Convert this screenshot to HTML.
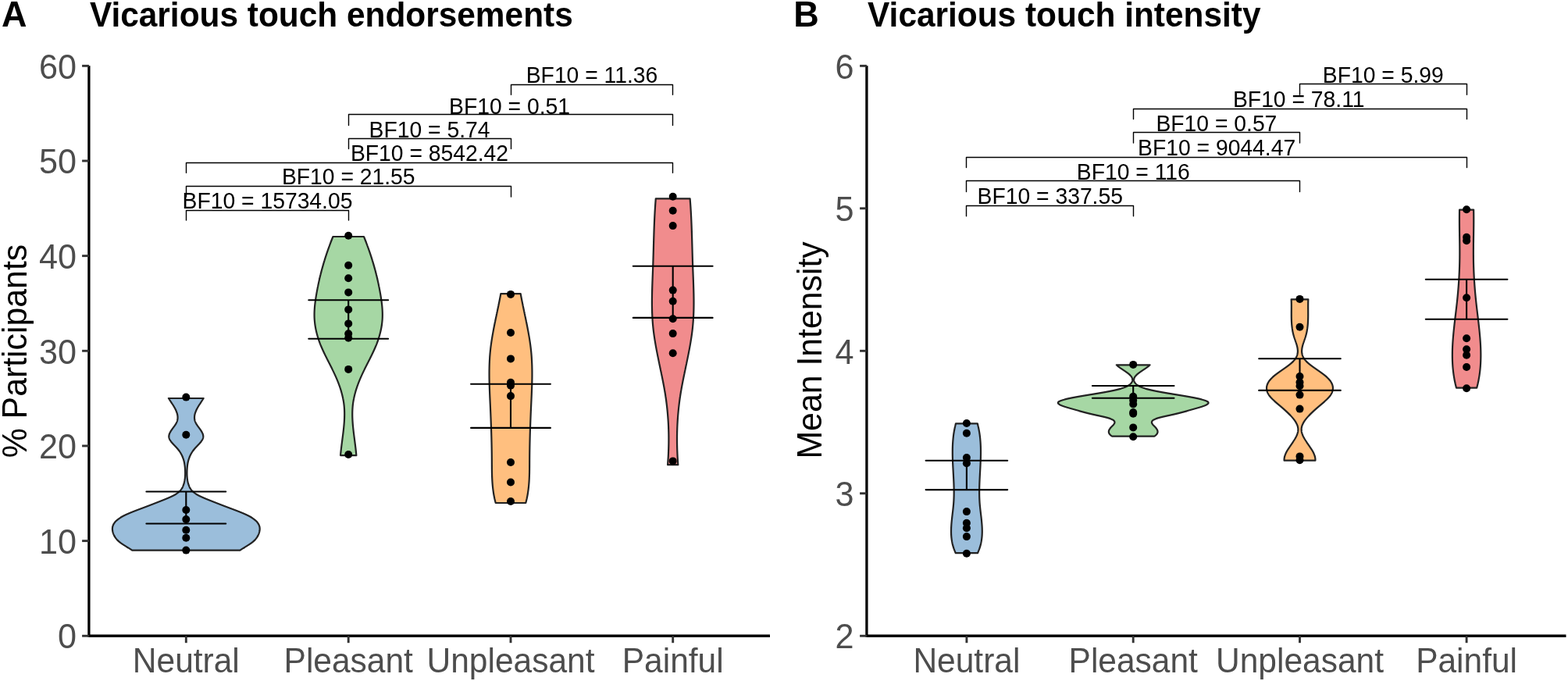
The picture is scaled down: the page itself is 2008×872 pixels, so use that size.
<!DOCTYPE html>
<html><head><meta charset="utf-8"><title>Vicarious touch</title><style>
html,body{margin:0;padding:0;background:#fff;}
svg{display:block;}
text{font-family:"Liberation Sans",Arial,Helvetica,sans-serif;}
.tk{font-size:43.2px;fill:#4D4D4D;}
.xl{font-size:42.5px;fill:#4D4D4D;}
.at{font-size:42.8px;fill:#000;}
.bf{font-size:28.3px;fill:#000;}
.ttl{font-size:42.4px;font-weight:bold;fill:#000;}
.tag{font-size:45px;font-weight:bold;fill:#000;}
</style></head><body>
<svg width="2008" height="872" viewBox="0 0 2008 872">
<rect width="2008" height="872" fill="#fff"/>
<path d="M260.70,510.00 L260.38,510.50 L260.05,511.00 L259.73,511.51 L259.40,512.01 L259.07,512.51 L258.74,513.01 L258.40,513.51 L258.07,514.01 L257.74,514.52 L257.41,515.02 L257.08,515.52 L256.75,516.02 L256.42,516.52 L256.10,517.03 L255.77,517.53 L255.45,518.03 L255.14,518.53 L254.82,519.03 L254.51,519.53 L254.21,520.04 L253.91,520.54 L253.62,521.04 L253.33,521.54 L253.04,522.04 L252.77,522.55 L252.50,523.05 L252.23,523.55 L251.98,524.05 L251.73,524.55 L251.49,525.05 L251.26,525.56 L251.04,526.06 L250.83,526.56 L250.63,527.06 L250.43,527.56 L250.25,528.06 L250.08,528.57 L249.92,529.07 L249.78,529.57 L249.64,530.07 L249.52,530.57 L249.41,531.08 L249.31,531.58 L249.23,532.08 L249.16,532.58 L249.11,533.08 L249.07,533.58 L249.05,534.09 L249.04,534.59 L249.05,535.09 L249.07,535.59 L249.11,536.09 L249.17,536.60 L249.25,537.10 L249.34,537.60 L249.45,538.10 L249.58,538.60 L249.73,539.10 L249.90,539.61 L250.09,540.11 L250.30,540.61 L250.53,541.11 L250.78,541.61 L251.05,542.12 L251.34,542.62 L251.63,543.12 L251.95,543.62 L252.27,544.12 L252.61,544.62 L252.95,545.13 L253.31,545.63 L253.66,546.13 L254.03,546.63 L254.39,547.13 L254.76,547.64 L255.13,548.14 L255.50,548.64 L255.86,549.14 L256.22,549.64 L256.58,550.14 L256.92,550.65 L257.26,551.15 L257.59,551.65 L257.91,552.15 L258.21,552.65 L258.50,553.16 L258.77,553.66 L259.03,554.16 L259.26,554.66 L259.48,555.16 L259.67,555.66 L259.84,556.17 L259.99,556.67 L260.11,557.17 L260.20,557.67 L260.26,558.17 L260.29,558.67 L260.29,559.18 L260.25,559.68 L260.18,560.18 L260.07,560.68 L259.93,561.18 L259.75,561.69 L259.54,562.19 L259.30,562.69 L259.03,563.19 L258.74,563.69 L258.42,564.19 L258.07,564.70 L257.71,565.20 L257.32,565.70 L256.92,566.20 L256.50,566.70 L256.07,567.21 L255.63,567.71 L255.17,568.21 L254.71,568.71 L254.24,569.21 L253.76,569.71 L253.28,570.22 L252.80,570.72 L252.32,571.22 L251.85,571.72 L251.37,572.22 L250.90,572.73 L250.44,573.23 L249.99,573.73 L249.55,574.23 L249.13,574.73 L248.71,575.23 L248.31,575.74 L247.92,576.24 L247.54,576.74 L247.17,577.24 L246.82,577.74 L246.47,578.25 L246.14,578.75 L245.81,579.25 L245.50,579.75 L245.20,580.25 L244.91,580.75 L244.63,581.26 L244.36,581.76 L244.09,582.26 L243.84,582.76 L243.60,583.26 L243.37,583.77 L243.14,584.27 L242.92,584.77 L242.72,585.27 L242.52,585.77 L242.33,586.27 L242.14,586.78 L241.97,587.28 L241.80,587.78 L241.64,588.28 L241.49,588.78 L241.34,589.29 L241.20,589.79 L241.07,590.29 L240.95,590.79 L240.83,591.29 L240.72,591.79 L240.61,592.30 L240.51,592.80 L240.41,593.30 L240.33,593.80 L240.24,594.30 L240.16,594.80 L240.09,595.31 L240.02,595.81 L239.96,596.31 L239.90,596.81 L239.85,597.31 L239.80,597.82 L239.75,598.32 L239.71,598.82 L239.67,599.32 L239.63,599.82 L239.60,600.32 L239.57,600.83 L239.55,601.33 L239.52,601.83 L239.50,602.33 L239.49,602.83 L239.47,603.34 L239.46,603.84 L239.45,604.34 L239.44,604.84 L239.43,605.34 L239.43,605.84 L239.43,606.35 L239.44,606.85 L239.44,607.35 L239.46,607.85 L239.47,608.35 L239.49,608.86 L239.51,609.36 L239.54,609.86 L239.57,610.36 L239.61,610.86 L239.65,611.36 L239.70,611.87 L239.75,612.37 L239.81,612.87 L239.87,613.37 L239.94,613.87 L240.02,614.38 L240.10,614.88 L240.18,615.38 L240.28,615.88 L240.38,616.38 L240.49,616.88 L240.60,617.39 L240.72,617.89 L240.85,618.39 L240.99,618.89 L241.13,619.39 L241.28,619.90 L241.44,620.40 L241.61,620.90 L241.79,621.40 L241.98,621.90 L242.17,622.40 L242.38,622.91 L242.60,623.41 L242.84,623.91 L243.10,624.41 L243.37,624.91 L243.67,625.41 L243.99,625.92 L244.33,626.42 L244.70,626.92 L245.09,627.42 L245.52,627.92 L245.97,628.43 L246.46,628.93 L246.98,629.43 L247.54,629.93 L248.14,630.43 L248.77,630.93 L249.44,631.44 L250.16,631.94 L250.92,632.44 L251.73,632.94 L252.59,633.44 L253.49,633.95 L254.43,634.45 L255.42,634.95 L256.44,635.45 L257.49,635.95 L258.58,636.45 L259.70,636.96 L260.84,637.46 L262.01,637.96 L263.20,638.46 L264.41,638.96 L265.64,639.47 L266.88,639.97 L268.13,640.47 L269.39,640.97 L270.66,641.47 L271.92,641.97 L273.19,642.48 L274.46,642.98 L275.74,643.48 L277.01,643.98 L278.29,644.48 L279.57,644.99 L280.85,645.49 L282.14,645.99 L283.43,646.49 L284.73,646.99 L286.03,647.49 L287.34,648.00 L288.65,648.50 L289.97,649.00 L291.30,649.50 L292.63,650.00 L293.96,650.51 L295.30,651.01 L296.63,651.51 L297.96,652.01 L299.29,652.51 L300.60,653.01 L301.92,653.52 L303.22,654.02 L304.51,654.52 L305.78,655.02 L307.04,655.52 L308.28,656.03 L309.50,656.53 L310.70,657.03 L311.87,657.53 L313.02,658.03 L314.15,658.53 L315.24,659.04 L316.30,659.54 L317.33,660.04 L318.32,660.54 L319.28,661.04 L320.20,661.54 L321.08,662.05 L321.92,662.55 L322.72,663.05 L323.49,663.55 L324.23,664.05 L324.92,664.56 L325.59,665.06 L326.21,665.56 L326.81,666.06 L327.37,666.56 L327.90,667.06 L328.40,667.57 L328.87,668.07 L329.30,668.57 L329.71,669.07 L330.09,669.57 L330.44,670.08 L330.76,670.58 L331.05,671.08 L331.32,671.58 L331.56,672.08 L331.78,672.58 L331.97,673.09 L332.13,673.59 L332.28,674.09 L332.40,674.59 L332.50,675.09 L332.57,675.60 L332.63,676.10 L332.66,676.60 L332.68,677.10 L332.68,677.60 L332.65,678.10 L332.61,678.61 L332.56,679.11 L332.48,679.61 L332.39,680.11 L332.28,680.61 L332.16,681.12 L332.03,681.62 L331.88,682.12 L331.72,682.62 L331.54,683.12 L331.36,683.62 L331.16,684.13 L330.95,684.63 L330.72,685.13 L330.48,685.63 L330.22,686.13 L329.95,686.64 L329.65,687.14 L329.35,687.64 L329.02,688.14 L328.67,688.64 L328.31,689.14 L327.92,689.65 L327.52,690.15 L327.09,690.65 L326.63,691.15 L326.16,691.65 L325.66,692.15 L325.14,692.66 L324.59,693.16 L324.01,693.66 L323.41,694.16 L322.78,694.66 L322.12,695.17 L321.44,695.67 L320.73,696.17 L319.99,696.67 L319.24,697.17 L318.47,697.67 L317.68,698.18 L316.88,698.68 L316.07,699.18 L315.26,699.68 L314.44,700.18 L313.63,700.69 L312.81,701.19 L312.00,701.69 L311.20,702.19 L310.40,702.69 L309.62,703.19 L308.86,703.70 L308.11,704.20 L307.39,704.70 L169.21,704.70 L168.49,704.20 L167.74,703.70 L166.98,703.19 L166.20,702.69 L165.40,702.19 L164.60,701.69 L163.79,701.19 L162.97,700.69 L162.16,700.18 L161.34,699.68 L160.53,699.18 L159.72,698.68 L158.92,698.18 L158.13,697.67 L157.36,697.17 L156.61,696.67 L155.87,696.17 L155.16,695.67 L154.48,695.17 L153.82,694.66 L153.19,694.16 L152.59,693.66 L152.01,693.16 L151.46,692.66 L150.94,692.15 L150.44,691.65 L149.97,691.15 L149.51,690.65 L149.08,690.15 L148.68,689.65 L148.29,689.14 L147.93,688.64 L147.58,688.14 L147.25,687.64 L146.95,687.14 L146.65,686.64 L146.38,686.13 L146.12,685.63 L145.88,685.13 L145.65,684.63 L145.44,684.13 L145.24,683.62 L145.06,683.12 L144.88,682.62 L144.72,682.12 L144.57,681.62 L144.44,681.12 L144.32,680.61 L144.21,680.11 L144.12,679.61 L144.04,679.11 L143.99,678.61 L143.95,678.10 L143.92,677.60 L143.92,677.10 L143.94,676.60 L143.97,676.10 L144.03,675.60 L144.10,675.09 L144.20,674.59 L144.32,674.09 L144.47,673.59 L144.63,673.09 L144.82,672.58 L145.04,672.08 L145.28,671.58 L145.55,671.08 L145.84,670.58 L146.16,670.08 L146.51,669.57 L146.89,669.07 L147.30,668.57 L147.73,668.07 L148.20,667.57 L148.70,667.06 L149.23,666.56 L149.79,666.06 L150.39,665.56 L151.01,665.06 L151.68,664.56 L152.37,664.05 L153.11,663.55 L153.88,663.05 L154.68,662.55 L155.52,662.05 L156.40,661.54 L157.32,661.04 L158.28,660.54 L159.27,660.04 L160.30,659.54 L161.36,659.04 L162.45,658.53 L163.58,658.03 L164.73,657.53 L165.90,657.03 L167.10,656.53 L168.32,656.03 L169.56,655.52 L170.82,655.02 L172.09,654.52 L173.38,654.02 L174.68,653.52 L176.00,653.01 L177.31,652.51 L178.64,652.01 L179.97,651.51 L181.30,651.01 L182.64,650.51 L183.97,650.00 L185.30,649.50 L186.63,649.00 L187.95,648.50 L189.26,648.00 L190.57,647.49 L191.87,646.99 L193.17,646.49 L194.46,645.99 L195.75,645.49 L197.03,644.99 L198.31,644.48 L199.59,643.98 L200.86,643.48 L202.14,642.98 L203.41,642.48 L204.68,641.97 L205.94,641.47 L207.21,640.97 L208.47,640.47 L209.72,639.97 L210.96,639.47 L212.19,638.96 L213.40,638.46 L214.59,637.96 L215.76,637.46 L216.90,636.96 L218.02,636.45 L219.11,635.95 L220.16,635.45 L221.18,634.95 L222.17,634.45 L223.11,633.95 L224.01,633.44 L224.87,632.94 L225.68,632.44 L226.44,631.94 L227.16,631.44 L227.83,630.93 L228.46,630.43 L229.06,629.93 L229.62,629.43 L230.14,628.93 L230.63,628.43 L231.08,627.92 L231.51,627.42 L231.90,626.92 L232.27,626.42 L232.61,625.92 L232.93,625.41 L233.23,624.91 L233.50,624.41 L233.76,623.91 L234.00,623.41 L234.22,622.91 L234.43,622.40 L234.62,621.90 L234.81,621.40 L234.99,620.90 L235.16,620.40 L235.32,619.90 L235.47,619.39 L235.61,618.89 L235.75,618.39 L235.88,617.89 L236.00,617.39 L236.11,616.88 L236.22,616.38 L236.32,615.88 L236.42,615.38 L236.50,614.88 L236.58,614.38 L236.66,613.87 L236.73,613.37 L236.79,612.87 L236.85,612.37 L236.90,611.87 L236.95,611.36 L236.99,610.86 L237.03,610.36 L237.06,609.86 L237.09,609.36 L237.11,608.86 L237.13,608.35 L237.14,607.85 L237.16,607.35 L237.16,606.85 L237.17,606.35 L237.17,605.84 L237.17,605.34 L237.16,604.84 L237.15,604.34 L237.14,603.84 L237.13,603.34 L237.11,602.83 L237.10,602.33 L237.08,601.83 L237.05,601.33 L237.03,600.83 L237.00,600.32 L236.97,599.82 L236.93,599.32 L236.89,598.82 L236.85,598.32 L236.80,597.82 L236.75,597.31 L236.70,596.81 L236.64,596.31 L236.58,595.81 L236.51,595.31 L236.44,594.80 L236.36,594.30 L236.27,593.80 L236.19,593.30 L236.09,592.80 L235.99,592.30 L235.88,591.79 L235.77,591.29 L235.65,590.79 L235.53,590.29 L235.40,589.79 L235.26,589.29 L235.11,588.78 L234.96,588.28 L234.80,587.78 L234.63,587.28 L234.46,586.78 L234.27,586.27 L234.08,585.77 L233.88,585.27 L233.68,584.77 L233.46,584.27 L233.23,583.77 L233.00,583.26 L232.76,582.76 L232.51,582.26 L232.24,581.76 L231.97,581.26 L231.69,580.75 L231.40,580.25 L231.10,579.75 L230.79,579.25 L230.46,578.75 L230.13,578.25 L229.78,577.74 L229.43,577.24 L229.06,576.74 L228.68,576.24 L228.29,575.74 L227.89,575.23 L227.47,574.73 L227.05,574.23 L226.61,573.73 L226.16,573.23 L225.70,572.73 L225.23,572.22 L224.75,571.72 L224.28,571.22 L223.80,570.72 L223.32,570.22 L222.84,569.71 L222.36,569.21 L221.89,568.71 L221.43,568.21 L220.97,567.71 L220.53,567.21 L220.10,566.70 L219.68,566.20 L219.28,565.70 L218.89,565.20 L218.53,564.70 L218.18,564.19 L217.86,563.69 L217.57,563.19 L217.30,562.69 L217.06,562.19 L216.85,561.69 L216.67,561.18 L216.53,560.68 L216.42,560.18 L216.35,559.68 L216.31,559.18 L216.31,558.67 L216.34,558.17 L216.40,557.67 L216.49,557.17 L216.61,556.67 L216.76,556.17 L216.93,555.66 L217.12,555.16 L217.34,554.66 L217.57,554.16 L217.83,553.66 L218.10,553.16 L218.39,552.65 L218.69,552.15 L219.01,551.65 L219.34,551.15 L219.68,550.65 L220.02,550.14 L220.38,549.64 L220.74,549.14 L221.10,548.64 L221.47,548.14 L221.84,547.64 L222.21,547.13 L222.57,546.63 L222.94,546.13 L223.29,545.63 L223.65,545.13 L223.99,544.62 L224.33,544.12 L224.65,543.62 L224.97,543.12 L225.26,542.62 L225.55,542.12 L225.82,541.61 L226.07,541.11 L226.30,540.61 L226.51,540.11 L226.70,539.61 L226.87,539.10 L227.02,538.60 L227.15,538.10 L227.26,537.60 L227.35,537.10 L227.43,536.60 L227.49,536.09 L227.53,535.59 L227.55,535.09 L227.56,534.59 L227.55,534.09 L227.53,533.58 L227.49,533.08 L227.44,532.58 L227.37,532.08 L227.29,531.58 L227.19,531.08 L227.08,530.57 L226.96,530.07 L226.82,529.57 L226.68,529.07 L226.52,528.57 L226.35,528.06 L226.17,527.56 L225.97,527.06 L225.77,526.56 L225.56,526.06 L225.34,525.56 L225.11,525.05 L224.87,524.55 L224.62,524.05 L224.37,523.55 L224.10,523.05 L223.83,522.55 L223.56,522.04 L223.27,521.54 L222.98,521.04 L222.69,520.54 L222.39,520.04 L222.09,519.53 L221.78,519.03 L221.46,518.53 L221.15,518.03 L220.83,517.53 L220.50,517.03 L220.18,516.52 L219.85,516.02 L219.52,515.52 L219.19,515.02 L218.86,514.52 L218.53,514.01 L218.20,513.51 L217.86,513.01 L217.53,512.51 L217.20,512.01 L216.87,511.51 L216.55,511.00 L216.22,510.50 L215.90,510.00 Z" fill="#9BBEDB" stroke="#222" stroke-width="2.2" stroke-linejoin="round"/>
<path d="M187.40,629.5 H289.20 M187.40,670.5 H289.20 M238.30,629.5 V670.5" stroke="#000" stroke-width="2.1" stroke-linecap="round" fill="none"/>
<circle cx="238.30" cy="508.6" r="5.0" fill="#000"/>
<circle cx="238.30" cy="556.7" r="5.0" fill="#000"/>
<circle cx="238.30" cy="653" r="5.0" fill="#000"/>
<circle cx="238.30" cy="665.1" r="5.0" fill="#000"/>
<circle cx="238.30" cy="678.8" r="5.0" fill="#000"/>
<circle cx="238.30" cy="688.8" r="5.0" fill="#000"/>
<circle cx="238.30" cy="704.6" r="5.0" fill="#000"/>
<path d="M465.97,303.00 L466.18,303.50 L466.38,304.00 L466.59,304.50 L466.79,305.00 L466.99,305.51 L467.19,306.01 L467.39,306.51 L467.59,307.01 L467.79,307.51 L467.98,308.01 L468.18,308.51 L468.38,309.01 L468.57,309.51 L468.76,310.02 L468.96,310.52 L469.15,311.02 L469.34,311.52 L469.53,312.02 L469.72,312.52 L469.91,313.02 L470.10,313.52 L470.28,314.02 L470.47,314.52 L470.65,315.03 L470.84,315.53 L471.02,316.03 L471.20,316.53 L471.39,317.03 L471.57,317.53 L471.75,318.03 L471.92,318.53 L472.10,319.03 L472.28,319.54 L472.46,320.04 L472.63,320.54 L472.81,321.04 L472.98,321.54 L473.15,322.04 L473.33,322.54 L473.50,323.04 L473.67,323.54 L473.84,324.05 L474.01,324.55 L474.17,325.05 L474.34,325.55 L474.51,326.05 L474.67,326.55 L474.84,327.05 L475.00,327.55 L475.17,328.05 L475.33,328.55 L475.49,329.06 L475.65,329.56 L475.81,330.06 L475.97,330.56 L476.13,331.06 L476.28,331.56 L476.44,332.06 L476.59,332.56 L476.75,333.06 L476.90,333.57 L477.06,334.07 L477.21,334.57 L477.36,335.07 L477.51,335.57 L477.66,336.07 L477.81,336.57 L477.96,337.07 L478.10,337.57 L478.25,338.08 L478.40,338.58 L478.54,339.08 L478.68,339.58 L478.83,340.08 L478.97,340.58 L479.11,341.08 L479.25,341.58 L479.39,342.08 L479.53,342.58 L479.67,343.09 L479.81,343.59 L479.94,344.09 L480.08,344.59 L480.22,345.09 L480.35,345.59 L480.48,346.09 L480.62,346.59 L480.75,347.09 L480.88,347.60 L481.01,348.10 L481.14,348.60 L481.27,349.10 L481.40,349.60 L481.52,350.10 L481.65,350.60 L481.78,351.10 L481.90,351.60 L482.02,352.11 L482.15,352.61 L482.27,353.11 L482.39,353.61 L482.51,354.11 L482.63,354.61 L482.75,355.11 L482.87,355.61 L482.99,356.11 L483.11,356.61 L483.22,357.12 L483.34,357.62 L483.45,358.12 L483.57,358.62 L483.68,359.12 L483.79,359.62 L483.90,360.12 L484.01,360.62 L484.12,361.12 L484.23,361.63 L484.34,362.13 L484.45,362.63 L484.56,363.13 L484.66,363.63 L484.77,364.13 L484.87,364.63 L484.98,365.13 L485.08,365.63 L485.18,366.14 L485.29,366.64 L485.39,367.14 L485.49,367.64 L485.59,368.14 L485.68,368.64 L485.78,369.14 L485.88,369.64 L485.98,370.14 L486.07,370.64 L486.17,371.15 L486.26,371.65 L486.35,372.15 L486.45,372.65 L486.54,373.15 L486.63,373.65 L486.72,374.15 L486.81,374.65 L486.90,375.15 L486.99,375.66 L487.08,376.16 L487.16,376.66 L487.25,377.16 L487.33,377.66 L487.42,378.16 L487.50,378.66 L487.58,379.16 L487.67,379.66 L487.75,380.17 L487.83,380.67 L487.91,381.17 L487.98,381.67 L488.06,382.17 L488.13,382.67 L488.21,383.17 L488.28,383.67 L488.35,384.17 L488.42,384.67 L488.49,385.18 L488.56,385.68 L488.63,386.18 L488.69,386.68 L488.76,387.18 L488.82,387.68 L488.88,388.18 L488.94,388.68 L489.00,389.18 L489.05,389.69 L489.11,390.19 L489.16,390.69 L489.21,391.19 L489.26,391.69 L489.31,392.19 L489.35,392.69 L489.40,393.19 L489.44,393.69 L489.48,394.20 L489.52,394.70 L489.55,395.20 L489.59,395.70 L489.62,396.20 L489.65,396.70 L489.68,397.20 L489.70,397.70 L489.73,398.20 L489.75,398.71 L489.77,399.21 L489.78,399.71 L489.80,400.21 L489.81,400.71 L489.82,401.21 L489.83,401.71 L489.83,402.21 L489.84,402.71 L489.84,403.21 L489.84,403.72 L489.83,404.22 L489.82,404.72 L489.81,405.22 L489.80,405.72 L489.79,406.22 L489.77,406.72 L489.75,407.22 L489.72,407.72 L489.70,408.23 L489.67,408.73 L489.64,409.23 L489.60,409.73 L489.56,410.23 L489.52,410.73 L489.48,411.23 L489.43,411.73 L489.38,412.23 L489.33,412.74 L489.28,413.24 L489.22,413.74 L489.16,414.24 L489.10,414.74 L489.03,415.24 L488.96,415.74 L488.89,416.24 L488.82,416.74 L488.74,417.24 L488.66,417.75 L488.58,418.25 L488.49,418.75 L488.40,419.25 L488.31,419.75 L488.22,420.25 L488.13,420.75 L488.03,421.25 L487.93,421.75 L487.82,422.26 L487.72,422.76 L487.61,423.26 L487.49,423.76 L487.38,424.26 L487.26,424.76 L487.14,425.26 L487.02,425.76 L486.90,426.26 L486.77,426.77 L486.64,427.27 L486.51,427.77 L486.37,428.27 L486.24,428.77 L486.10,429.27 L485.95,429.77 L485.81,430.27 L485.66,430.77 L485.51,431.27 L485.36,431.78 L485.21,432.28 L485.05,432.78 L484.89,433.28 L484.73,433.78 L484.56,434.28 L484.40,434.78 L484.23,435.28 L484.06,435.78 L483.88,436.29 L483.71,436.79 L483.53,437.29 L483.35,437.79 L483.17,438.29 L482.98,438.79 L482.79,439.29 L482.60,439.79 L482.41,440.29 L482.22,440.80 L482.02,441.30 L481.82,441.80 L481.62,442.30 L481.41,442.80 L481.21,443.30 L481.00,443.80 L480.79,444.30 L480.58,444.80 L480.36,445.30 L480.15,445.81 L479.93,446.31 L479.71,446.81 L479.49,447.31 L479.26,447.81 L479.04,448.31 L478.81,448.81 L478.58,449.31 L478.35,449.81 L478.11,450.32 L477.88,450.82 L477.64,451.32 L477.41,451.82 L477.17,452.32 L476.93,452.82 L476.69,453.32 L476.45,453.82 L476.20,454.32 L475.96,454.83 L475.71,455.33 L475.47,455.83 L475.22,456.33 L474.97,456.83 L474.72,457.33 L474.47,457.83 L474.22,458.33 L473.97,458.83 L473.72,459.33 L473.47,459.84 L473.21,460.34 L472.96,460.84 L472.71,461.34 L472.45,461.84 L472.20,462.34 L471.94,462.84 L471.69,463.34 L471.43,463.84 L471.18,464.35 L470.92,464.85 L470.67,465.35 L470.41,465.85 L470.16,466.35 L469.91,466.85 L469.65,467.35 L469.40,467.85 L469.14,468.35 L468.89,468.86 L468.64,469.36 L468.39,469.86 L468.13,470.36 L467.88,470.86 L467.63,471.36 L467.38,471.86 L467.13,472.36 L466.88,472.86 L466.64,473.36 L466.39,473.87 L466.15,474.37 L465.90,474.87 L465.66,475.37 L465.42,475.87 L465.17,476.37 L464.94,476.87 L464.70,477.37 L464.46,477.87 L464.22,478.38 L463.99,478.88 L463.76,479.38 L463.53,479.88 L463.30,480.38 L463.07,480.88 L462.84,481.38 L462.62,481.88 L462.40,482.38 L462.17,482.89 L461.96,483.39 L461.74,483.89 L461.52,484.39 L461.31,484.89 L461.09,485.39 L460.88,485.89 L460.67,486.39 L460.47,486.89 L460.26,487.39 L460.06,487.90 L459.86,488.40 L459.66,488.90 L459.46,489.40 L459.26,489.90 L459.07,490.40 L458.88,490.90 L458.69,491.40 L458.50,491.90 L458.32,492.41 L458.13,492.91 L457.95,493.41 L457.77,493.91 L457.59,494.41 L457.42,494.91 L457.24,495.41 L457.07,495.91 L456.90,496.41 L456.74,496.92 L456.57,497.42 L456.41,497.92 L456.25,498.42 L456.09,498.92 L455.93,499.42 L455.78,499.92 L455.63,500.42 L455.48,500.92 L455.33,501.43 L455.19,501.93 L455.05,502.43 L454.91,502.93 L454.77,503.43 L454.64,503.93 L454.50,504.43 L454.38,504.93 L454.25,505.43 L454.12,505.93 L454.00,506.44 L453.88,506.94 L453.76,507.44 L453.65,507.94 L453.54,508.44 L453.43,508.94 L453.32,509.44 L453.22,509.94 L453.11,510.44 L453.02,510.95 L452.92,511.45 L452.83,511.95 L452.73,512.45 L452.65,512.95 L452.56,513.45 L452.48,513.95 L452.40,514.45 L452.32,514.95 L452.25,515.46 L452.18,515.96 L452.11,516.46 L452.04,516.96 L451.98,517.46 L451.92,517.96 L451.86,518.46 L451.81,518.96 L451.75,519.46 L451.70,519.96 L451.66,520.47 L451.61,520.97 L451.57,521.47 L451.53,521.97 L451.50,522.47 L451.46,522.97 L451.43,523.47 L451.40,523.97 L451.37,524.47 L451.35,524.98 L451.33,525.48 L451.31,525.98 L451.29,526.48 L451.28,526.98 L451.26,527.48 L451.25,527.98 L451.24,528.48 L451.24,528.98 L451.23,529.49 L451.23,529.99 L451.23,530.49 L451.23,530.99 L451.23,531.49 L451.24,531.99 L451.25,532.49 L451.26,532.99 L451.27,533.49 L451.28,533.99 L451.29,534.50 L451.31,535.00 L451.33,535.50 L451.35,536.00 L451.37,536.50 L451.39,537.00 L451.42,537.50 L451.44,538.00 L451.47,538.50 L451.50,539.01 L451.53,539.51 L451.56,540.01 L451.60,540.51 L451.63,541.01 L451.67,541.51 L451.70,542.01 L451.74,542.51 L451.78,543.01 L451.82,543.52 L451.87,544.02 L451.91,544.52 L451.95,545.02 L452.00,545.52 L452.05,546.02 L452.10,546.52 L452.14,547.02 L452.19,547.52 L452.25,548.02 L452.30,548.53 L452.35,549.03 L452.40,549.53 L452.46,550.03 L452.51,550.53 L452.57,551.03 L452.63,551.53 L452.68,552.03 L452.74,552.53 L452.80,553.04 L452.86,553.54 L452.92,554.04 L452.98,554.54 L453.04,555.04 L453.10,555.54 L453.16,556.04 L453.23,556.54 L453.29,557.04 L453.35,557.55 L453.42,558.05 L453.48,558.55 L453.54,559.05 L453.61,559.55 L453.67,560.05 L453.74,560.55 L453.80,561.05 L453.87,561.55 L453.93,562.05 L454.00,562.56 L454.06,563.06 L454.13,563.56 L454.19,564.06 L454.26,564.56 L454.32,565.06 L454.39,565.56 L454.45,566.06 L454.52,566.56 L454.58,567.07 L454.64,567.57 L454.71,568.07 L454.77,568.57 L454.83,569.07 L454.90,569.57 L454.96,570.07 L455.02,570.57 L455.08,571.07 L455.14,571.58 L455.20,572.08 L455.26,572.58 L455.32,573.08 L455.38,573.58 L455.44,574.08 L455.50,574.58 L455.55,575.08 L455.61,575.58 L455.66,576.08 L455.72,576.59 L455.77,577.09 L455.83,577.59 L455.88,578.09 L455.93,578.59 L455.98,579.09 L456.03,579.59 L456.08,580.09 L456.12,580.59 L456.17,581.10 L456.21,581.60 L456.26,582.10 L456.30,582.60 L456.34,583.10 L436.06,583.10 L436.10,582.60 L436.14,582.10 L436.19,581.60 L436.23,581.10 L436.28,580.59 L436.32,580.09 L436.37,579.59 L436.42,579.09 L436.47,578.59 L436.52,578.09 L436.57,577.59 L436.63,577.09 L436.68,576.59 L436.74,576.08 L436.79,575.58 L436.85,575.08 L436.90,574.58 L436.96,574.08 L437.02,573.58 L437.08,573.08 L437.14,572.58 L437.20,572.08 L437.26,571.58 L437.32,571.07 L437.38,570.57 L437.44,570.07 L437.50,569.57 L437.57,569.07 L437.63,568.57 L437.69,568.07 L437.76,567.57 L437.82,567.07 L437.88,566.56 L437.95,566.06 L438.01,565.56 L438.08,565.06 L438.14,564.56 L438.21,564.06 L438.27,563.56 L438.34,563.06 L438.40,562.56 L438.47,562.05 L438.53,561.55 L438.60,561.05 L438.66,560.55 L438.73,560.05 L438.79,559.55 L438.86,559.05 L438.92,558.55 L438.98,558.05 L439.05,557.55 L439.11,557.04 L439.17,556.54 L439.24,556.04 L439.30,555.54 L439.36,555.04 L439.42,554.54 L439.48,554.04 L439.54,553.54 L439.60,553.04 L439.66,552.53 L439.72,552.03 L439.77,551.53 L439.83,551.03 L439.89,550.53 L439.94,550.03 L440.00,549.53 L440.05,549.03 L440.10,548.53 L440.15,548.02 L440.21,547.52 L440.26,547.02 L440.30,546.52 L440.35,546.02 L440.40,545.52 L440.45,545.02 L440.49,544.52 L440.53,544.02 L440.58,543.52 L440.62,543.01 L440.66,542.51 L440.70,542.01 L440.73,541.51 L440.77,541.01 L440.80,540.51 L440.84,540.01 L440.87,539.51 L440.90,539.01 L440.93,538.50 L440.96,538.00 L440.98,537.50 L441.01,537.00 L441.03,536.50 L441.05,536.00 L441.07,535.50 L441.09,535.00 L441.11,534.50 L441.12,533.99 L441.13,533.49 L441.14,532.99 L441.15,532.49 L441.16,531.99 L441.17,531.49 L441.17,530.99 L441.17,530.49 L441.17,529.99 L441.17,529.49 L441.16,528.98 L441.16,528.48 L441.15,527.98 L441.14,527.48 L441.12,526.98 L441.11,526.48 L441.09,525.98 L441.07,525.48 L441.05,524.98 L441.03,524.47 L441.00,523.97 L440.97,523.47 L440.94,522.97 L440.90,522.47 L440.87,521.97 L440.83,521.47 L440.79,520.97 L440.74,520.47 L440.70,519.96 L440.65,519.46 L440.59,518.96 L440.54,518.46 L440.48,517.96 L440.42,517.46 L440.36,516.96 L440.29,516.46 L440.22,515.96 L440.15,515.46 L440.08,514.95 L440.00,514.45 L439.92,513.95 L439.84,513.45 L439.75,512.95 L439.67,512.45 L439.57,511.95 L439.48,511.45 L439.38,510.95 L439.29,510.44 L439.18,509.94 L439.08,509.44 L438.97,508.94 L438.86,508.44 L438.75,507.94 L438.64,507.44 L438.52,506.94 L438.40,506.44 L438.28,505.93 L438.15,505.43 L438.02,504.93 L437.90,504.43 L437.76,503.93 L437.63,503.43 L437.49,502.93 L437.35,502.43 L437.21,501.93 L437.07,501.43 L436.92,500.92 L436.77,500.42 L436.62,499.92 L436.47,499.42 L436.31,498.92 L436.15,498.42 L435.99,497.92 L435.83,497.42 L435.66,496.92 L435.50,496.41 L435.33,495.91 L435.16,495.41 L434.98,494.91 L434.81,494.41 L434.63,493.91 L434.45,493.41 L434.27,492.91 L434.08,492.41 L433.90,491.90 L433.71,491.40 L433.52,490.90 L433.33,490.40 L433.14,489.90 L432.94,489.40 L432.74,488.90 L432.54,488.40 L432.34,487.90 L432.14,487.39 L431.93,486.89 L431.73,486.39 L431.52,485.89 L431.31,485.39 L431.09,484.89 L430.88,484.39 L430.66,483.89 L430.44,483.39 L430.23,482.89 L430.00,482.38 L429.78,481.88 L429.56,481.38 L429.33,480.88 L429.10,480.38 L428.87,479.88 L428.64,479.38 L428.41,478.88 L428.18,478.38 L427.94,477.87 L427.70,477.37 L427.46,476.87 L427.23,476.37 L426.98,475.87 L426.74,475.37 L426.50,474.87 L426.25,474.37 L426.01,473.87 L425.76,473.36 L425.52,472.86 L425.27,472.36 L425.02,471.86 L424.77,471.36 L424.52,470.86 L424.27,470.36 L424.01,469.86 L423.76,469.36 L423.51,468.86 L423.26,468.35 L423.00,467.85 L422.75,467.35 L422.49,466.85 L422.24,466.35 L421.99,465.85 L421.73,465.35 L421.48,464.85 L421.22,464.35 L420.97,463.84 L420.71,463.34 L420.46,462.84 L420.20,462.34 L419.95,461.84 L419.69,461.34 L419.44,460.84 L419.19,460.34 L418.93,459.84 L418.68,459.33 L418.43,458.83 L418.18,458.33 L417.93,457.83 L417.68,457.33 L417.43,456.83 L417.18,456.33 L416.93,455.83 L416.69,455.33 L416.44,454.83 L416.20,454.32 L415.95,453.82 L415.71,453.32 L415.47,452.82 L415.23,452.32 L414.99,451.82 L414.76,451.32 L414.52,450.82 L414.29,450.32 L414.05,449.81 L413.82,449.31 L413.59,448.81 L413.36,448.31 L413.14,447.81 L412.91,447.31 L412.69,446.81 L412.47,446.31 L412.25,445.81 L412.04,445.30 L411.82,444.80 L411.61,444.30 L411.40,443.80 L411.19,443.30 L410.99,442.80 L410.78,442.30 L410.58,441.80 L410.38,441.30 L410.18,440.80 L409.99,440.29 L409.80,439.79 L409.61,439.29 L409.42,438.79 L409.23,438.29 L409.05,437.79 L408.87,437.29 L408.69,436.79 L408.52,436.29 L408.34,435.78 L408.17,435.28 L408.00,434.78 L407.84,434.28 L407.67,433.78 L407.51,433.28 L407.35,432.78 L407.19,432.28 L407.04,431.78 L406.89,431.27 L406.74,430.77 L406.59,430.27 L406.45,429.77 L406.30,429.27 L406.16,428.77 L406.03,428.27 L405.89,427.77 L405.76,427.27 L405.63,426.77 L405.50,426.26 L405.38,425.76 L405.26,425.26 L405.14,424.76 L405.02,424.26 L404.91,423.76 L404.79,423.26 L404.68,422.76 L404.58,422.26 L404.47,421.75 L404.37,421.25 L404.27,420.75 L404.18,420.25 L404.09,419.75 L404.00,419.25 L403.91,418.75 L403.82,418.25 L403.74,417.75 L403.66,417.24 L403.58,416.74 L403.51,416.24 L403.44,415.74 L403.37,415.24 L403.30,414.74 L403.24,414.24 L403.18,413.74 L403.12,413.24 L403.07,412.74 L403.02,412.23 L402.97,411.73 L402.92,411.23 L402.88,410.73 L402.84,410.23 L402.80,409.73 L402.76,409.23 L402.73,408.73 L402.70,408.23 L402.68,407.72 L402.65,407.22 L402.63,406.72 L402.61,406.22 L402.60,405.72 L402.59,405.22 L402.58,404.72 L402.57,404.22 L402.56,403.72 L402.56,403.21 L402.56,402.71 L402.57,402.21 L402.57,401.71 L402.58,401.21 L402.59,400.71 L402.60,400.21 L402.62,399.71 L402.63,399.21 L402.65,398.71 L402.67,398.20 L402.70,397.70 L402.72,397.20 L402.75,396.70 L402.78,396.20 L402.81,395.70 L402.85,395.20 L402.88,394.70 L402.92,394.20 L402.96,393.69 L403.00,393.19 L403.05,392.69 L403.09,392.19 L403.14,391.69 L403.19,391.19 L403.24,390.69 L403.29,390.19 L403.35,389.69 L403.40,389.18 L403.46,388.68 L403.52,388.18 L403.58,387.68 L403.64,387.18 L403.71,386.68 L403.77,386.18 L403.84,385.68 L403.91,385.18 L403.98,384.67 L404.05,384.17 L404.12,383.67 L404.19,383.17 L404.27,382.67 L404.34,382.17 L404.42,381.67 L404.49,381.17 L404.57,380.67 L404.65,380.17 L404.73,379.66 L404.82,379.16 L404.90,378.66 L404.98,378.16 L405.07,377.66 L405.15,377.16 L405.24,376.66 L405.32,376.16 L405.41,375.66 L405.50,375.15 L405.59,374.65 L405.68,374.15 L405.77,373.65 L405.86,373.15 L405.95,372.65 L406.05,372.15 L406.14,371.65 L406.23,371.15 L406.33,370.64 L406.42,370.14 L406.52,369.64 L406.62,369.14 L406.72,368.64 L406.81,368.14 L406.91,367.64 L407.01,367.14 L407.11,366.64 L407.22,366.14 L407.32,365.63 L407.42,365.13 L407.53,364.63 L407.63,364.13 L407.74,363.63 L407.84,363.13 L407.95,362.63 L408.06,362.13 L408.17,361.63 L408.28,361.12 L408.39,360.62 L408.50,360.12 L408.61,359.62 L408.72,359.12 L408.83,358.62 L408.95,358.12 L409.06,357.62 L409.18,357.12 L409.29,356.61 L409.41,356.11 L409.53,355.61 L409.65,355.11 L409.77,354.61 L409.89,354.11 L410.01,353.61 L410.13,353.11 L410.25,352.61 L410.38,352.11 L410.50,351.60 L410.62,351.10 L410.75,350.60 L410.88,350.10 L411.00,349.60 L411.13,349.10 L411.26,348.60 L411.39,348.10 L411.52,347.60 L411.65,347.09 L411.78,346.59 L411.92,346.09 L412.05,345.59 L412.18,345.09 L412.32,344.59 L412.46,344.09 L412.59,343.59 L412.73,343.09 L412.87,342.58 L413.01,342.08 L413.15,341.58 L413.29,341.08 L413.43,340.58 L413.57,340.08 L413.72,339.58 L413.86,339.08 L414.00,338.58 L414.15,338.08 L414.30,337.57 L414.44,337.07 L414.59,336.57 L414.74,336.07 L414.89,335.57 L415.04,335.07 L415.19,334.57 L415.34,334.07 L415.50,333.57 L415.65,333.06 L415.81,332.56 L415.96,332.06 L416.12,331.56 L416.27,331.06 L416.43,330.56 L416.59,330.06 L416.75,329.56 L416.91,329.06 L417.07,328.55 L417.23,328.05 L417.40,327.55 L417.56,327.05 L417.73,326.55 L417.89,326.05 L418.06,325.55 L418.23,325.05 L418.39,324.55 L418.56,324.05 L418.73,323.54 L418.90,323.04 L419.07,322.54 L419.25,322.04 L419.42,321.54 L419.59,321.04 L419.77,320.54 L419.94,320.04 L420.12,319.54 L420.30,319.03 L420.48,318.53 L420.65,318.03 L420.83,317.53 L421.01,317.03 L421.20,316.53 L421.38,316.03 L421.56,315.53 L421.75,315.03 L421.93,314.52 L422.12,314.02 L422.30,313.52 L422.49,313.02 L422.68,312.52 L422.87,312.02 L423.06,311.52 L423.25,311.02 L423.44,310.52 L423.64,310.02 L423.83,309.51 L424.02,309.01 L424.22,308.51 L424.42,308.01 L424.61,307.51 L424.81,307.01 L425.01,306.51 L425.21,306.01 L425.41,305.51 L425.61,305.00 L425.81,304.50 L426.02,304.00 L426.22,303.50 L426.43,303.00 Z" fill="#A6D7A4" stroke="#222" stroke-width="2.2" stroke-linejoin="round"/>
<path d="M395.30,384.2 H497.10 M395.30,433.7 H497.10 M446.20,384.2 V433.7" stroke="#000" stroke-width="2.1" stroke-linecap="round" fill="none"/>
<circle cx="446.20" cy="301.7" r="5.0" fill="#000"/>
<circle cx="446.20" cy="339.7" r="5.0" fill="#000"/>
<circle cx="446.20" cy="356.3" r="5.0" fill="#000"/>
<circle cx="446.20" cy="374.4" r="5.0" fill="#000"/>
<circle cx="446.20" cy="396.4" r="5.0" fill="#000"/>
<circle cx="446.20" cy="414.4" r="5.0" fill="#000"/>
<circle cx="446.20" cy="427.3" r="5.0" fill="#000"/>
<circle cx="446.20" cy="432.8" r="5.0" fill="#000"/>
<circle cx="446.20" cy="472.9" r="5.0" fill="#000"/>
<circle cx="446.20" cy="582" r="5.0" fill="#000"/>
<path d="M666.70,376.20 L666.79,376.70 L666.89,377.20 L666.98,377.70 L667.07,378.21 L667.16,378.71 L667.26,379.21 L667.35,379.71 L667.45,380.21 L667.54,380.71 L667.64,381.21 L667.74,381.72 L667.83,382.22 L667.93,382.72 L668.03,383.22 L668.13,383.72 L668.22,384.22 L668.32,384.73 L668.42,385.23 L668.52,385.73 L668.62,386.23 L668.72,386.73 L668.82,387.23 L668.93,387.73 L669.03,388.24 L669.13,388.74 L669.23,389.24 L669.33,389.74 L669.44,390.24 L669.54,390.74 L669.64,391.24 L669.74,391.75 L669.85,392.25 L669.95,392.75 L670.06,393.25 L670.16,393.75 L670.26,394.25 L670.37,394.76 L670.47,395.26 L670.58,395.76 L670.68,396.26 L670.79,396.76 L670.89,397.26 L671.00,397.76 L671.10,398.27 L671.21,398.77 L671.32,399.27 L671.42,399.77 L671.53,400.27 L671.63,400.77 L671.74,401.27 L671.84,401.78 L671.95,402.28 L672.05,402.78 L672.16,403.28 L672.26,403.78 L672.37,404.28 L672.47,404.79 L672.58,405.29 L672.69,405.79 L672.79,406.29 L672.89,406.79 L673.00,407.29 L673.10,407.79 L673.21,408.30 L673.31,408.80 L673.42,409.30 L673.52,409.80 L673.62,410.30 L673.73,410.80 L673.83,411.30 L673.93,411.81 L674.04,412.31 L674.14,412.81 L674.24,413.31 L674.34,413.81 L674.44,414.31 L674.55,414.82 L674.65,415.32 L674.75,415.82 L674.85,416.32 L674.95,416.82 L675.05,417.32 L675.15,417.82 L675.25,418.33 L675.34,418.83 L675.44,419.33 L675.54,419.83 L675.64,420.33 L675.73,420.83 L675.83,421.33 L675.93,421.84 L676.02,422.34 L676.11,422.84 L676.21,423.34 L676.30,423.84 L676.40,424.34 L676.49,424.85 L676.58,425.35 L676.67,425.85 L676.76,426.35 L676.85,426.85 L676.94,427.35 L677.03,427.85 L677.12,428.36 L677.21,428.86 L677.30,429.36 L677.38,429.86 L677.47,430.36 L677.55,430.86 L677.64,431.36 L677.72,431.87 L677.80,432.37 L677.89,432.87 L677.97,433.37 L678.05,433.87 L678.13,434.37 L678.21,434.88 L678.29,435.38 L678.36,435.88 L678.44,436.38 L678.52,436.88 L678.59,437.38 L678.67,437.88 L678.74,438.39 L678.81,438.89 L678.88,439.39 L678.95,439.89 L679.02,440.39 L679.09,440.89 L679.16,441.39 L679.23,441.90 L679.29,442.40 L679.36,442.90 L679.42,443.40 L679.49,443.90 L679.55,444.40 L679.61,444.91 L679.67,445.41 L679.73,445.91 L679.79,446.41 L679.84,446.91 L679.90,447.41 L679.95,447.91 L680.01,448.42 L680.06,448.92 L680.11,449.42 L680.16,449.92 L680.21,450.42 L680.26,450.92 L680.30,451.42 L680.35,451.93 L680.40,452.43 L680.44,452.93 L680.48,453.43 L680.52,453.93 L680.56,454.43 L680.60,454.94 L680.64,455.44 L680.68,455.94 L680.72,456.44 L680.75,456.94 L680.79,457.44 L680.82,457.94 L680.85,458.45 L680.88,458.95 L680.91,459.45 L680.94,459.95 L680.97,460.45 L681.00,460.95 L681.03,461.45 L681.05,461.96 L681.08,462.46 L681.10,462.96 L681.13,463.46 L681.15,463.96 L681.17,464.46 L681.19,464.97 L681.21,465.47 L681.23,465.97 L681.25,466.47 L681.26,466.97 L681.28,467.47 L681.30,467.97 L681.31,468.48 L681.33,468.98 L681.34,469.48 L681.35,469.98 L681.36,470.48 L681.37,470.98 L681.38,471.48 L681.39,471.99 L681.40,472.49 L681.41,472.99 L681.42,473.49 L681.43,473.99 L681.43,474.49 L681.44,475.00 L681.44,475.50 L681.44,476.00 L681.45,476.50 L681.45,477.00 L681.45,477.50 L681.45,478.00 L681.45,478.51 L681.45,479.01 L681.45,479.51 L681.45,480.01 L681.45,480.51 L681.45,481.01 L681.44,481.51 L681.44,482.02 L681.44,482.52 L681.43,483.02 L681.43,483.52 L681.42,484.02 L681.41,484.52 L681.41,485.03 L681.40,485.53 L681.39,486.03 L681.38,486.53 L681.37,487.03 L681.36,487.53 L681.35,488.03 L681.34,488.54 L681.33,489.04 L681.32,489.54 L681.31,490.04 L681.30,490.54 L681.29,491.04 L681.27,491.54 L681.26,492.05 L681.25,492.55 L681.23,493.05 L681.22,493.55 L681.20,494.05 L681.19,494.55 L681.17,495.06 L681.16,495.56 L681.14,496.06 L681.12,496.56 L681.11,497.06 L681.09,497.56 L681.07,498.06 L681.05,498.57 L681.03,499.07 L681.02,499.57 L681.00,500.07 L680.98,500.57 L680.96,501.07 L680.94,501.57 L680.92,502.08 L680.90,502.58 L680.88,503.08 L680.86,503.58 L680.84,504.08 L680.82,504.58 L680.80,505.09 L680.77,505.59 L680.75,506.09 L680.73,506.59 L680.71,507.09 L680.69,507.59 L680.67,508.09 L680.64,508.60 L680.62,509.10 L680.60,509.60 L680.58,510.10 L680.55,510.60 L680.53,511.10 L680.51,511.60 L680.49,512.11 L680.46,512.61 L680.44,513.11 L680.42,513.61 L680.39,514.11 L680.37,514.61 L680.35,515.11 L680.33,515.62 L680.30,516.12 L680.28,516.62 L680.26,517.12 L680.23,517.62 L680.21,518.12 L680.19,518.63 L680.16,519.13 L680.14,519.63 L680.12,520.13 L680.10,520.63 L680.07,521.13 L680.05,521.63 L680.03,522.14 L680.01,522.64 L679.98,523.14 L679.96,523.64 L679.94,524.14 L679.92,524.64 L679.90,525.14 L679.87,525.65 L679.85,526.15 L679.83,526.65 L679.81,527.15 L679.79,527.65 L679.77,528.15 L679.74,528.66 L679.72,529.16 L679.70,529.66 L679.68,530.16 L679.66,530.66 L679.64,531.16 L679.62,531.66 L679.60,532.17 L679.58,532.67 L679.56,533.17 L679.54,533.67 L679.52,534.17 L679.50,534.67 L679.48,535.17 L679.46,535.68 L679.44,536.18 L679.42,536.68 L679.40,537.18 L679.38,537.68 L679.36,538.18 L679.34,538.69 L679.32,539.19 L679.30,539.69 L679.28,540.19 L679.26,540.69 L679.24,541.19 L679.23,541.69 L679.21,542.20 L679.19,542.70 L679.17,543.20 L679.15,543.70 L679.14,544.20 L679.12,544.70 L679.10,545.20 L679.08,545.71 L679.06,546.21 L679.05,546.71 L679.03,547.21 L679.01,547.71 L679.00,548.21 L678.98,548.72 L678.96,549.22 L678.95,549.72 L678.93,550.22 L678.91,550.72 L678.90,551.22 L678.88,551.72 L678.87,552.23 L678.85,552.73 L678.83,553.23 L678.82,553.73 L678.80,554.23 L678.79,554.73 L678.77,555.23 L678.76,555.74 L678.74,556.24 L678.73,556.74 L678.72,557.24 L678.70,557.74 L678.69,558.24 L678.67,558.75 L678.66,559.25 L678.65,559.75 L678.63,560.25 L678.62,560.75 L678.61,561.25 L678.59,561.75 L678.58,562.26 L678.57,562.76 L678.56,563.26 L678.54,563.76 L678.53,564.26 L678.52,564.76 L678.51,565.26 L678.50,565.77 L678.48,566.27 L678.47,566.77 L678.46,567.27 L678.45,567.77 L678.44,568.27 L678.43,568.78 L678.42,569.28 L678.41,569.78 L678.40,570.28 L678.39,570.78 L678.38,571.28 L678.37,571.78 L678.36,572.29 L678.35,572.79 L678.34,573.29 L678.33,573.79 L678.33,574.29 L678.32,574.79 L678.31,575.29 L678.30,575.80 L678.29,576.30 L678.28,576.80 L678.28,577.30 L678.27,577.80 L678.26,578.30 L678.26,578.81 L678.25,579.31 L678.24,579.81 L678.24,580.31 L678.23,580.81 L678.22,581.31 L678.22,581.81 L678.21,582.32 L678.21,582.82 L678.20,583.32 L678.20,583.82 L678.19,584.32 L678.19,584.82 L678.18,585.32 L678.18,585.83 L678.18,586.33 L678.17,586.83 L678.17,587.33 L678.17,587.83 L678.16,588.33 L678.16,588.84 L678.16,589.34 L678.15,589.84 L678.15,590.34 L678.15,590.84 L678.15,591.34 L678.15,591.84 L678.14,592.35 L678.14,592.85 L678.14,593.35 L678.14,593.85 L678.14,594.35 L678.13,594.85 L678.13,595.35 L678.13,595.86 L678.13,596.36 L678.12,596.86 L678.12,597.36 L678.12,597.86 L678.11,598.36 L678.11,598.87 L678.10,599.37 L678.10,599.87 L678.09,600.37 L678.09,600.87 L678.08,601.37 L678.08,601.87 L678.07,602.38 L678.06,602.88 L678.05,603.38 L678.04,603.88 L678.04,604.38 L678.03,604.88 L678.02,605.38 L678.00,605.89 L677.99,606.39 L677.98,606.89 L677.97,607.39 L677.95,607.89 L677.94,608.39 L677.92,608.90 L677.91,609.40 L677.89,609.90 L677.87,610.40 L677.85,610.90 L677.83,611.40 L677.81,611.90 L677.79,612.41 L677.77,612.91 L677.74,613.41 L677.72,613.91 L677.69,614.41 L677.66,614.91 L677.63,615.41 L677.60,615.92 L677.57,616.42 L677.54,616.92 L677.51,617.42 L677.47,617.92 L677.44,618.42 L677.40,618.93 L677.36,619.43 L677.32,619.93 L677.28,620.43 L677.24,620.93 L677.19,621.43 L677.15,621.93 L677.10,622.44 L677.05,622.94 L677.00,623.44 L676.95,623.94 L676.89,624.44 L676.84,624.94 L676.78,625.44 L676.72,625.95 L676.66,626.45 L676.60,626.95 L676.54,627.45 L676.47,627.95 L676.40,628.45 L676.33,628.96 L676.26,629.46 L676.19,629.96 L676.11,630.46 L676.04,630.96 L675.96,631.46 L675.88,631.96 L675.79,632.47 L675.71,632.97 L675.62,633.47 L675.53,633.97 L675.44,634.47 L675.35,634.97 L675.25,635.47 L675.15,635.98 L675.05,636.48 L674.95,636.98 L674.85,637.48 L674.74,637.98 L674.63,638.48 L674.52,638.99 L674.40,639.49 L674.29,639.99 L674.17,640.49 L674.05,640.99 L673.92,641.49 L673.80,641.99 L673.67,642.50 L673.54,643.00 L673.40,643.50 L673.27,644.00 L634.73,644.00 L634.60,643.50 L634.46,643.00 L634.33,642.50 L634.20,641.99 L634.08,641.49 L633.95,640.99 L633.83,640.49 L633.71,639.99 L633.60,639.49 L633.48,638.99 L633.37,638.48 L633.26,637.98 L633.15,637.48 L633.05,636.98 L632.95,636.48 L632.85,635.98 L632.75,635.47 L632.65,634.97 L632.56,634.47 L632.47,633.97 L632.38,633.47 L632.29,632.97 L632.21,632.47 L632.12,631.96 L632.04,631.46 L631.96,630.96 L631.89,630.46 L631.81,629.96 L631.74,629.46 L631.67,628.96 L631.60,628.45 L631.53,627.95 L631.46,627.45 L631.40,626.95 L631.34,626.45 L631.28,625.95 L631.22,625.44 L631.16,624.94 L631.11,624.44 L631.05,623.94 L631.00,623.44 L630.95,622.94 L630.90,622.44 L630.85,621.93 L630.81,621.43 L630.76,620.93 L630.72,620.43 L630.68,619.93 L630.64,619.43 L630.60,618.93 L630.56,618.42 L630.53,617.92 L630.49,617.42 L630.46,616.92 L630.43,616.42 L630.40,615.92 L630.37,615.41 L630.34,614.91 L630.31,614.41 L630.28,613.91 L630.26,613.41 L630.23,612.91 L630.21,612.41 L630.19,611.90 L630.17,611.40 L630.15,610.90 L630.13,610.40 L630.11,609.90 L630.09,609.40 L630.08,608.90 L630.06,608.39 L630.05,607.89 L630.03,607.39 L630.02,606.89 L630.01,606.39 L630.00,605.89 L629.98,605.38 L629.97,604.88 L629.96,604.38 L629.96,603.88 L629.95,603.38 L629.94,602.88 L629.93,602.38 L629.92,601.87 L629.92,601.37 L629.91,600.87 L629.91,600.37 L629.90,599.87 L629.90,599.37 L629.89,598.87 L629.89,598.36 L629.88,597.86 L629.88,597.36 L629.88,596.86 L629.87,596.36 L629.87,595.86 L629.87,595.35 L629.87,594.85 L629.86,594.35 L629.86,593.85 L629.86,593.35 L629.86,592.85 L629.86,592.35 L629.85,591.84 L629.85,591.34 L629.85,590.84 L629.85,590.34 L629.85,589.84 L629.84,589.34 L629.84,588.84 L629.84,588.33 L629.83,587.83 L629.83,587.33 L629.83,586.83 L629.82,586.33 L629.82,585.83 L629.82,585.32 L629.81,584.82 L629.81,584.32 L629.80,583.82 L629.80,583.32 L629.79,582.82 L629.79,582.32 L629.78,581.81 L629.78,581.31 L629.77,580.81 L629.76,580.31 L629.76,579.81 L629.75,579.31 L629.74,578.81 L629.74,578.30 L629.73,577.80 L629.72,577.30 L629.72,576.80 L629.71,576.30 L629.70,575.80 L629.69,575.29 L629.68,574.79 L629.67,574.29 L629.67,573.79 L629.66,573.29 L629.65,572.79 L629.64,572.29 L629.63,571.78 L629.62,571.28 L629.61,570.78 L629.60,570.28 L629.59,569.78 L629.58,569.28 L629.57,568.78 L629.56,568.27 L629.55,567.77 L629.54,567.27 L629.53,566.77 L629.52,566.27 L629.50,565.77 L629.49,565.26 L629.48,564.76 L629.47,564.26 L629.46,563.76 L629.44,563.26 L629.43,562.76 L629.42,562.26 L629.41,561.75 L629.39,561.25 L629.38,560.75 L629.37,560.25 L629.35,559.75 L629.34,559.25 L629.33,558.75 L629.31,558.24 L629.30,557.74 L629.28,557.24 L629.27,556.74 L629.26,556.24 L629.24,555.74 L629.23,555.23 L629.21,554.73 L629.20,554.23 L629.18,553.73 L629.17,553.23 L629.15,552.73 L629.13,552.23 L629.12,551.72 L629.10,551.22 L629.09,550.72 L629.07,550.22 L629.05,549.72 L629.04,549.22 L629.02,548.72 L629.00,548.21 L628.99,547.71 L628.97,547.21 L628.95,546.71 L628.94,546.21 L628.92,545.71 L628.90,545.20 L628.88,544.70 L628.86,544.20 L628.85,543.70 L628.83,543.20 L628.81,542.70 L628.79,542.20 L628.77,541.69 L628.76,541.19 L628.74,540.69 L628.72,540.19 L628.70,539.69 L628.68,539.19 L628.66,538.69 L628.64,538.18 L628.62,537.68 L628.60,537.18 L628.58,536.68 L628.56,536.18 L628.54,535.68 L628.52,535.17 L628.50,534.67 L628.48,534.17 L628.46,533.67 L628.44,533.17 L628.42,532.67 L628.40,532.17 L628.38,531.66 L628.36,531.16 L628.34,530.66 L628.32,530.16 L628.30,529.66 L628.28,529.16 L628.26,528.66 L628.23,528.15 L628.21,527.65 L628.19,527.15 L628.17,526.65 L628.15,526.15 L628.13,525.65 L628.10,525.14 L628.08,524.64 L628.06,524.14 L628.04,523.64 L628.02,523.14 L627.99,522.64 L627.97,522.14 L627.95,521.63 L627.93,521.13 L627.90,520.63 L627.88,520.13 L627.86,519.63 L627.84,519.13 L627.81,518.63 L627.79,518.12 L627.77,517.62 L627.74,517.12 L627.72,516.62 L627.70,516.12 L627.67,515.62 L627.65,515.11 L627.63,514.61 L627.61,514.11 L627.58,513.61 L627.56,513.11 L627.54,512.61 L627.51,512.11 L627.49,511.60 L627.47,511.10 L627.45,510.60 L627.42,510.10 L627.40,509.60 L627.38,509.10 L627.36,508.60 L627.33,508.09 L627.31,507.59 L627.29,507.09 L627.27,506.59 L627.25,506.09 L627.23,505.59 L627.20,505.09 L627.18,504.58 L627.16,504.08 L627.14,503.58 L627.12,503.08 L627.10,502.58 L627.08,502.08 L627.06,501.57 L627.04,501.07 L627.02,500.57 L627.00,500.07 L626.98,499.57 L626.97,499.07 L626.95,498.57 L626.93,498.06 L626.91,497.56 L626.89,497.06 L626.88,496.56 L626.86,496.06 L626.84,495.56 L626.83,495.06 L626.81,494.55 L626.80,494.05 L626.78,493.55 L626.77,493.05 L626.75,492.55 L626.74,492.05 L626.73,491.54 L626.71,491.04 L626.70,490.54 L626.69,490.04 L626.68,489.54 L626.67,489.04 L626.66,488.54 L626.65,488.03 L626.64,487.53 L626.63,487.03 L626.62,486.53 L626.61,486.03 L626.60,485.53 L626.59,485.03 L626.59,484.52 L626.58,484.02 L626.57,483.52 L626.57,483.02 L626.56,482.52 L626.56,482.02 L626.56,481.51 L626.55,481.01 L626.55,480.51 L626.55,480.01 L626.55,479.51 L626.55,479.01 L626.55,478.51 L626.55,478.00 L626.55,477.50 L626.55,477.00 L626.55,476.50 L626.56,476.00 L626.56,475.50 L626.56,475.00 L626.57,474.49 L626.57,473.99 L626.58,473.49 L626.59,472.99 L626.60,472.49 L626.61,471.99 L626.62,471.48 L626.63,470.98 L626.64,470.48 L626.65,469.98 L626.66,469.48 L626.67,468.98 L626.69,468.48 L626.70,467.97 L626.72,467.47 L626.74,466.97 L626.75,466.47 L626.77,465.97 L626.79,465.47 L626.81,464.97 L626.83,464.46 L626.85,463.96 L626.87,463.46 L626.90,462.96 L626.92,462.46 L626.95,461.96 L626.97,461.45 L627.00,460.95 L627.03,460.45 L627.06,459.95 L627.09,459.45 L627.12,458.95 L627.15,458.45 L627.18,457.94 L627.21,457.44 L627.25,456.94 L627.28,456.44 L627.32,455.94 L627.36,455.44 L627.40,454.94 L627.44,454.43 L627.48,453.93 L627.52,453.43 L627.56,452.93 L627.60,452.43 L627.65,451.93 L627.70,451.42 L627.74,450.92 L627.79,450.42 L627.84,449.92 L627.89,449.42 L627.94,448.92 L627.99,448.42 L628.05,447.91 L628.10,447.41 L628.16,446.91 L628.21,446.41 L628.27,445.91 L628.33,445.41 L628.39,444.91 L628.45,444.40 L628.51,443.90 L628.58,443.40 L628.64,442.90 L628.71,442.40 L628.77,441.90 L628.84,441.39 L628.91,440.89 L628.98,440.39 L629.05,439.89 L629.12,439.39 L629.19,438.89 L629.26,438.39 L629.33,437.88 L629.41,437.38 L629.48,436.88 L629.56,436.38 L629.64,435.88 L629.71,435.38 L629.79,434.88 L629.87,434.37 L629.95,433.87 L630.03,433.37 L630.11,432.87 L630.20,432.37 L630.28,431.87 L630.36,431.36 L630.45,430.86 L630.53,430.36 L630.62,429.86 L630.70,429.36 L630.79,428.86 L630.88,428.36 L630.97,427.85 L631.06,427.35 L631.15,426.85 L631.24,426.35 L631.33,425.85 L631.42,425.35 L631.51,424.85 L631.60,424.34 L631.70,423.84 L631.79,423.34 L631.89,422.84 L631.98,422.34 L632.07,421.84 L632.17,421.33 L632.27,420.83 L632.36,420.33 L632.46,419.83 L632.56,419.33 L632.66,418.83 L632.75,418.33 L632.85,417.82 L632.95,417.32 L633.05,416.82 L633.15,416.32 L633.25,415.82 L633.35,415.32 L633.45,414.82 L633.56,414.31 L633.66,413.81 L633.76,413.31 L633.86,412.81 L633.96,412.31 L634.07,411.81 L634.17,411.30 L634.27,410.80 L634.38,410.30 L634.48,409.80 L634.58,409.30 L634.69,408.80 L634.79,408.30 L634.90,407.79 L635.00,407.29 L635.11,406.79 L635.21,406.29 L635.31,405.79 L635.42,405.29 L635.53,404.79 L635.63,404.28 L635.74,403.78 L635.84,403.28 L635.95,402.78 L636.05,402.28 L636.16,401.78 L636.26,401.27 L636.37,400.77 L636.47,400.27 L636.58,399.77 L636.68,399.27 L636.79,398.77 L636.90,398.27 L637.00,397.76 L637.11,397.26 L637.21,396.76 L637.32,396.26 L637.42,395.76 L637.53,395.26 L637.63,394.76 L637.74,394.25 L637.84,393.75 L637.94,393.25 L638.05,392.75 L638.15,392.25 L638.26,391.75 L638.36,391.24 L638.46,390.74 L638.56,390.24 L638.67,389.74 L638.77,389.24 L638.87,388.74 L638.97,388.24 L639.07,387.73 L639.18,387.23 L639.28,386.73 L639.38,386.23 L639.48,385.73 L639.58,385.23 L639.68,384.73 L639.78,384.22 L639.87,383.72 L639.97,383.22 L640.07,382.72 L640.17,382.22 L640.26,381.72 L640.36,381.21 L640.46,380.71 L640.55,380.21 L640.65,379.71 L640.74,379.21 L640.84,378.71 L640.93,378.21 L641.02,377.70 L641.11,377.20 L641.21,376.70 L641.30,376.20 Z" fill="#FFBF7F" stroke="#222" stroke-width="2.2" stroke-linejoin="round"/>
<path d="M603.10,491.7 H704.90 M603.10,547.9 H704.90 M654.00,491.7 V547.9" stroke="#000" stroke-width="2.1" stroke-linecap="round" fill="none"/>
<circle cx="654.00" cy="376.9" r="5.0" fill="#000"/>
<circle cx="654.00" cy="426" r="5.0" fill="#000"/>
<circle cx="654.00" cy="459.4" r="5.0" fill="#000"/>
<circle cx="654.00" cy="489.7" r="5.0" fill="#000"/>
<circle cx="654.00" cy="493.8" r="5.0" fill="#000"/>
<circle cx="654.00" cy="507.1" r="5.0" fill="#000"/>
<circle cx="654.00" cy="592" r="5.0" fill="#000"/>
<circle cx="654.00" cy="617.5" r="5.0" fill="#000"/>
<circle cx="654.00" cy="642" r="5.0" fill="#000"/>
<path d="M883.61,254.40 L883.66,254.90 L883.70,255.40 L883.74,255.90 L883.78,256.40 L883.82,256.91 L883.86,257.41 L883.89,257.91 L883.93,258.41 L883.97,258.91 L884.01,259.41 L884.04,259.91 L884.08,260.41 L884.12,260.92 L884.15,261.42 L884.19,261.92 L884.22,262.42 L884.26,262.92 L884.29,263.42 L884.33,263.92 L884.36,264.42 L884.39,264.92 L884.43,265.43 L884.46,265.93 L884.49,266.43 L884.52,266.93 L884.55,267.43 L884.58,267.93 L884.61,268.43 L884.64,268.93 L884.67,269.44 L884.70,269.94 L884.73,270.44 L884.76,270.94 L884.79,271.44 L884.82,271.94 L884.85,272.44 L884.87,272.94 L884.90,273.44 L884.93,273.95 L884.96,274.45 L884.98,274.95 L885.01,275.45 L885.03,275.95 L885.06,276.45 L885.08,276.95 L885.11,277.45 L885.13,277.96 L885.16,278.46 L885.18,278.96 L885.21,279.46 L885.23,279.96 L885.25,280.46 L885.27,280.96 L885.30,281.46 L885.32,281.96 L885.34,282.47 L885.36,282.97 L885.39,283.47 L885.41,283.97 L885.43,284.47 L885.45,284.97 L885.47,285.47 L885.49,285.97 L885.51,286.48 L885.53,286.98 L885.55,287.48 L885.57,287.98 L885.59,288.48 L885.61,288.98 L885.63,289.48 L885.65,289.98 L885.67,290.48 L885.68,290.99 L885.70,291.49 L885.72,291.99 L885.74,292.49 L885.76,292.99 L885.77,293.49 L885.79,293.99 L885.81,294.49 L885.83,295.00 L885.84,295.50 L885.86,296.00 L885.88,296.50 L885.89,297.00 L885.91,297.50 L885.92,298.00 L885.94,298.50 L885.96,299.00 L885.97,299.51 L885.99,300.01 L886.00,300.51 L886.02,301.01 L886.03,301.51 L886.05,302.01 L886.06,302.51 L886.08,303.01 L886.09,303.52 L886.11,304.02 L886.12,304.52 L886.14,305.02 L886.15,305.52 L886.17,306.02 L886.18,306.52 L886.20,307.02 L886.21,307.52 L886.22,308.03 L886.24,308.53 L886.25,309.03 L886.27,309.53 L886.28,310.03 L886.29,310.53 L886.31,311.03 L886.32,311.53 L886.33,312.04 L886.35,312.54 L886.36,313.04 L886.38,313.54 L886.39,314.04 L886.40,314.54 L886.42,315.04 L886.43,315.54 L886.44,316.04 L886.46,316.55 L886.47,317.05 L886.48,317.55 L886.50,318.05 L886.51,318.55 L886.52,319.05 L886.54,319.55 L886.55,320.05 L886.56,320.56 L886.58,321.06 L886.59,321.56 L886.61,322.06 L886.62,322.56 L886.63,323.06 L886.65,323.56 L886.66,324.06 L886.67,324.56 L886.69,325.07 L886.70,325.57 L886.72,326.07 L886.73,326.57 L886.74,327.07 L886.76,327.57 L886.77,328.07 L886.79,328.57 L886.80,329.08 L886.82,329.58 L886.83,330.08 L886.84,330.58 L886.86,331.08 L886.87,331.58 L886.89,332.08 L886.90,332.58 L886.92,333.08 L886.93,333.59 L886.95,334.09 L886.97,334.59 L886.98,335.09 L887.00,335.59 L887.01,336.09 L887.03,336.59 L887.05,337.09 L887.06,337.60 L887.08,338.10 L887.09,338.60 L887.11,339.10 L887.13,339.60 L887.15,340.10 L887.16,340.60 L887.18,341.10 L887.20,341.60 L887.22,342.11 L887.23,342.61 L887.25,343.11 L887.27,343.61 L887.29,344.11 L887.31,344.61 L887.32,345.11 L887.34,345.61 L887.36,346.12 L887.38,346.62 L887.40,347.12 L887.42,347.62 L887.44,348.12 L887.46,348.62 L887.48,349.12 L887.50,349.62 L887.52,350.12 L887.53,350.63 L887.55,351.13 L887.57,351.63 L887.59,352.13 L887.61,352.63 L887.63,353.13 L887.65,353.63 L887.67,354.13 L887.69,354.64 L887.71,355.14 L887.73,355.64 L887.75,356.14 L887.77,356.64 L887.79,357.14 L887.80,357.64 L887.82,358.14 L887.84,358.64 L887.86,359.15 L887.88,359.65 L887.90,360.15 L887.92,360.65 L887.93,361.15 L887.95,361.65 L887.97,362.15 L887.99,362.65 L888.00,363.16 L888.02,363.66 L888.04,364.16 L888.06,364.66 L888.07,365.16 L888.09,365.66 L888.11,366.16 L888.12,366.66 L888.14,367.16 L888.15,367.67 L888.17,368.17 L888.18,368.67 L888.20,369.17 L888.21,369.67 L888.23,370.17 L888.24,370.67 L888.26,371.17 L888.27,371.68 L888.28,372.18 L888.30,372.68 L888.31,373.18 L888.32,373.68 L888.33,374.18 L888.34,374.68 L888.35,375.18 L888.37,375.68 L888.38,376.19 L888.39,376.69 L888.40,377.19 L888.40,377.69 L888.41,378.19 L888.42,378.69 L888.43,379.19 L888.44,379.69 L888.44,380.20 L888.45,380.70 L888.46,381.20 L888.46,381.70 L888.47,382.20 L888.47,382.70 L888.48,383.20 L888.48,383.70 L888.48,384.20 L888.49,384.71 L888.49,385.21 L888.49,385.71 L888.49,386.21 L888.49,386.71 L888.49,387.21 L888.49,387.71 L888.49,388.21 L888.49,388.72 L888.49,389.22 L888.49,389.72 L888.48,390.22 L888.48,390.72 L888.47,391.22 L888.47,391.72 L888.46,392.22 L888.46,392.72 L888.45,393.23 L888.44,393.73 L888.43,394.23 L888.43,394.73 L888.42,395.23 L888.40,395.73 L888.39,396.23 L888.38,396.73 L888.37,397.24 L888.36,397.74 L888.34,398.24 L888.33,398.74 L888.31,399.24 L888.30,399.74 L888.28,400.24 L888.26,400.74 L888.24,401.24 L888.22,401.75 L888.20,402.25 L888.18,402.75 L888.16,403.25 L888.14,403.75 L888.12,404.25 L888.09,404.75 L888.07,405.25 L888.04,405.76 L888.02,406.26 L887.99,406.76 L887.96,407.26 L887.93,407.76 L887.90,408.26 L887.87,408.76 L887.84,409.26 L887.80,409.76 L887.77,410.27 L887.74,410.77 L887.70,411.27 L887.66,411.77 L887.63,412.27 L887.59,412.77 L887.55,413.27 L887.51,413.77 L887.47,414.28 L887.43,414.78 L887.38,415.28 L887.34,415.78 L887.29,416.28 L887.25,416.78 L887.20,417.28 L887.15,417.78 L887.10,418.28 L887.05,418.79 L887.00,419.29 L886.95,419.79 L886.89,420.29 L886.84,420.79 L886.78,421.29 L886.73,421.79 L886.67,422.29 L886.61,422.80 L886.55,423.30 L886.49,423.80 L886.43,424.30 L886.37,424.80 L886.31,425.30 L886.24,425.80 L886.18,426.30 L886.11,426.80 L886.04,427.31 L885.98,427.81 L885.91,428.31 L885.84,428.81 L885.77,429.31 L885.70,429.81 L885.63,430.31 L885.55,430.81 L885.48,431.32 L885.41,431.82 L885.33,432.32 L885.25,432.82 L885.18,433.32 L885.10,433.82 L885.02,434.32 L884.94,434.82 L884.86,435.32 L884.78,435.83 L884.70,436.33 L884.62,436.83 L884.54,437.33 L884.46,437.83 L884.37,438.33 L884.29,438.83 L884.20,439.33 L884.12,439.84 L884.03,440.34 L883.95,440.84 L883.86,441.34 L883.77,441.84 L883.68,442.34 L883.59,442.84 L883.50,443.34 L883.41,443.84 L883.32,444.35 L883.23,444.85 L883.14,445.35 L883.05,445.85 L882.95,446.35 L882.86,446.85 L882.77,447.35 L882.67,447.85 L882.58,448.36 L882.48,448.86 L882.39,449.36 L882.29,449.86 L882.19,450.36 L882.10,450.86 L882.00,451.36 L881.90,451.86 L881.80,452.36 L881.71,452.87 L881.61,453.37 L881.51,453.87 L881.41,454.37 L881.31,454.87 L881.21,455.37 L881.11,455.87 L881.01,456.37 L880.90,456.88 L880.80,457.38 L880.70,457.88 L880.60,458.38 L880.50,458.88 L880.39,459.38 L880.29,459.88 L880.19,460.38 L880.09,460.88 L879.98,461.39 L879.88,461.89 L879.77,462.39 L879.67,462.89 L879.57,463.39 L879.46,463.89 L879.36,464.39 L879.25,464.89 L879.15,465.40 L879.04,465.90 L878.94,466.40 L878.83,466.90 L878.73,467.40 L878.62,467.90 L878.52,468.40 L878.41,468.90 L878.31,469.40 L878.20,469.91 L878.10,470.41 L877.99,470.91 L877.89,471.41 L877.78,471.91 L877.68,472.41 L877.57,472.91 L877.46,473.41 L877.36,473.92 L877.25,474.42 L877.15,474.92 L877.04,475.42 L876.94,475.92 L876.83,476.42 L876.73,476.92 L876.63,477.42 L876.52,477.92 L876.42,478.43 L876.31,478.93 L876.21,479.43 L876.11,479.93 L876.00,480.43 L875.90,480.93 L875.80,481.43 L875.69,481.93 L875.59,482.44 L875.49,482.94 L875.39,483.44 L875.29,483.94 L875.18,484.44 L875.08,484.94 L874.98,485.44 L874.88,485.94 L874.78,486.44 L874.68,486.95 L874.58,487.45 L874.48,487.95 L874.39,488.45 L874.29,488.95 L874.19,489.45 L874.09,489.95 L874.00,490.45 L873.90,490.96 L873.80,491.46 L873.71,491.96 L873.61,492.46 L873.52,492.96 L873.42,493.46 L873.33,493.96 L873.24,494.46 L873.14,494.96 L873.05,495.47 L872.96,495.97 L872.87,496.47 L872.78,496.97 L872.69,497.47 L872.60,497.97 L872.51,498.47 L872.42,498.97 L872.34,499.48 L872.25,499.98 L872.16,500.48 L872.08,500.98 L871.99,501.48 L871.91,501.98 L871.83,502.48 L871.74,502.98 L871.66,503.48 L871.58,503.99 L871.50,504.49 L871.42,504.99 L871.34,505.49 L871.26,505.99 L871.19,506.49 L871.11,506.99 L871.03,507.49 L870.96,508.00 L870.88,508.50 L870.81,509.00 L870.74,509.50 L870.67,510.00 L870.59,510.50 L870.52,511.00 L870.45,511.50 L870.38,512.00 L870.32,512.51 L870.25,513.01 L870.18,513.51 L870.12,514.01 L870.05,514.51 L869.98,515.01 L869.92,515.51 L869.86,516.01 L869.79,516.52 L869.73,517.02 L869.67,517.52 L869.61,518.02 L869.55,518.52 L869.49,519.02 L869.43,519.52 L869.38,520.02 L869.32,520.52 L869.26,521.03 L869.21,521.53 L869.15,522.03 L869.10,522.53 L869.05,523.03 L868.99,523.53 L868.94,524.03 L868.89,524.53 L868.84,525.04 L868.79,525.54 L868.74,526.04 L868.69,526.54 L868.65,527.04 L868.60,527.54 L868.55,528.04 L868.51,528.54 L868.46,529.04 L868.42,529.55 L868.38,530.05 L868.33,530.55 L868.29,531.05 L868.25,531.55 L868.21,532.05 L868.17,532.55 L868.13,533.05 L868.09,533.56 L868.05,534.06 L868.02,534.56 L867.98,535.06 L867.95,535.56 L867.91,536.06 L867.88,536.56 L867.84,537.06 L867.81,537.56 L867.78,538.07 L867.75,538.57 L867.71,539.07 L867.68,539.57 L867.66,540.07 L867.63,540.57 L867.60,541.07 L867.57,541.57 L867.54,542.08 L867.52,542.58 L867.49,543.08 L867.47,543.58 L867.44,544.08 L867.42,544.58 L867.40,545.08 L867.38,545.58 L867.35,546.08 L867.33,546.59 L867.31,547.09 L867.29,547.59 L867.28,548.09 L867.26,548.59 L867.24,549.09 L867.22,549.59 L867.21,550.09 L867.19,550.60 L867.18,551.10 L867.16,551.60 L867.15,552.10 L867.14,552.60 L867.12,553.10 L867.11,553.60 L867.10,554.10 L867.09,554.60 L867.08,555.11 L867.07,555.61 L867.06,556.11 L867.06,556.61 L867.05,557.11 L867.04,557.61 L867.04,558.11 L867.03,558.61 L867.03,559.12 L867.03,559.62 L867.02,560.12 L867.02,560.62 L867.02,561.12 L867.02,561.62 L867.02,562.12 L867.02,562.62 L867.02,563.12 L867.02,563.63 L867.02,564.13 L867.02,564.63 L867.03,565.13 L867.03,565.63 L867.03,566.13 L867.04,566.63 L867.05,567.13 L867.05,567.64 L867.06,568.14 L867.07,568.64 L867.07,569.14 L867.08,569.64 L867.09,570.14 L867.10,570.64 L867.11,571.14 L867.13,571.64 L867.14,572.15 L867.15,572.65 L867.16,573.15 L867.18,573.65 L867.19,574.15 L867.21,574.65 L867.22,575.15 L867.24,575.65 L867.26,576.16 L867.27,576.66 L867.29,577.16 L867.31,577.66 L867.33,578.16 L867.35,578.66 L867.37,579.16 L867.39,579.66 L867.41,580.16 L867.43,580.67 L867.46,581.17 L867.48,581.67 L867.51,582.17 L867.53,582.67 L867.56,583.17 L867.58,583.67 L867.61,584.17 L867.63,584.68 L867.66,585.18 L867.69,585.68 L867.72,586.18 L867.75,586.68 L867.78,587.18 L867.81,587.68 L867.84,588.18 L867.87,588.68 L867.90,589.19 L867.94,589.69 L867.97,590.19 L868.01,590.69 L868.04,591.19 L868.08,591.69 L868.11,592.19 L868.15,592.69 L868.18,593.20 L868.22,593.70 L868.26,594.20 L868.30,594.70 L868.34,595.20 L855.06,595.20 L855.10,594.70 L855.14,594.20 L855.18,593.70 L855.22,593.20 L855.25,592.69 L855.29,592.19 L855.32,591.69 L855.36,591.19 L855.39,590.69 L855.43,590.19 L855.46,589.69 L855.50,589.19 L855.53,588.68 L855.56,588.18 L855.59,587.68 L855.62,587.18 L855.65,586.68 L855.68,586.18 L855.71,585.68 L855.74,585.18 L855.77,584.68 L855.79,584.17 L855.82,583.67 L855.84,583.17 L855.87,582.67 L855.89,582.17 L855.92,581.67 L855.94,581.17 L855.97,580.67 L855.99,580.16 L856.01,579.66 L856.03,579.16 L856.05,578.66 L856.07,578.16 L856.09,577.66 L856.11,577.16 L856.13,576.66 L856.14,576.16 L856.16,575.65 L856.18,575.15 L856.19,574.65 L856.21,574.15 L856.22,573.65 L856.24,573.15 L856.25,572.65 L856.26,572.15 L856.27,571.64 L856.29,571.14 L856.30,570.64 L856.31,570.14 L856.32,569.64 L856.33,569.14 L856.33,568.64 L856.34,568.14 L856.35,567.64 L856.35,567.13 L856.36,566.63 L856.37,566.13 L856.37,565.63 L856.37,565.13 L856.38,564.63 L856.38,564.13 L856.38,563.63 L856.38,563.12 L856.38,562.62 L856.38,562.12 L856.38,561.62 L856.38,561.12 L856.38,560.62 L856.38,560.12 L856.37,559.62 L856.37,559.12 L856.37,558.61 L856.36,558.11 L856.36,557.61 L856.35,557.11 L856.34,556.61 L856.34,556.11 L856.33,555.61 L856.32,555.11 L856.31,554.60 L856.30,554.10 L856.29,553.60 L856.28,553.10 L856.26,552.60 L856.25,552.10 L856.24,551.60 L856.22,551.10 L856.21,550.60 L856.19,550.09 L856.18,549.59 L856.16,549.09 L856.14,548.59 L856.12,548.09 L856.11,547.59 L856.09,547.09 L856.07,546.59 L856.05,546.08 L856.02,545.58 L856.00,545.08 L855.98,544.58 L855.96,544.08 L855.93,543.58 L855.91,543.08 L855.88,542.58 L855.86,542.08 L855.83,541.57 L855.80,541.07 L855.77,540.57 L855.74,540.07 L855.72,539.57 L855.69,539.07 L855.65,538.57 L855.62,538.07 L855.59,537.56 L855.56,537.06 L855.52,536.56 L855.49,536.06 L855.45,535.56 L855.42,535.06 L855.38,534.56 L855.35,534.06 L855.31,533.56 L855.27,533.05 L855.23,532.55 L855.19,532.05 L855.15,531.55 L855.11,531.05 L855.07,530.55 L855.02,530.05 L854.98,529.55 L854.94,529.04 L854.89,528.54 L854.85,528.04 L854.80,527.54 L854.75,527.04 L854.71,526.54 L854.66,526.04 L854.61,525.54 L854.56,525.04 L854.51,524.53 L854.46,524.03 L854.41,523.53 L854.35,523.03 L854.30,522.53 L854.25,522.03 L854.19,521.53 L854.14,521.03 L854.08,520.52 L854.02,520.02 L853.97,519.52 L853.91,519.02 L853.85,518.52 L853.79,518.02 L853.73,517.52 L853.67,517.02 L853.61,516.52 L853.54,516.01 L853.48,515.51 L853.42,515.01 L853.35,514.51 L853.28,514.01 L853.22,513.51 L853.15,513.01 L853.08,512.51 L853.02,512.00 L852.95,511.50 L852.88,511.00 L852.81,510.50 L852.73,510.00 L852.66,509.50 L852.59,509.00 L852.52,508.50 L852.44,508.00 L852.37,507.49 L852.29,506.99 L852.21,506.49 L852.14,505.99 L852.06,505.49 L851.98,504.99 L851.90,504.49 L851.82,503.99 L851.74,503.48 L851.66,502.98 L851.57,502.48 L851.49,501.98 L851.41,501.48 L851.32,500.98 L851.24,500.48 L851.15,499.98 L851.06,499.48 L850.98,498.97 L850.89,498.47 L850.80,497.97 L850.71,497.47 L850.62,496.97 L850.53,496.47 L850.44,495.97 L850.35,495.47 L850.26,494.96 L850.16,494.46 L850.07,493.96 L849.98,493.46 L849.88,492.96 L849.79,492.46 L849.69,491.96 L849.60,491.46 L849.50,490.96 L849.40,490.45 L849.31,489.95 L849.21,489.45 L849.11,488.95 L849.01,488.45 L848.92,487.95 L848.82,487.45 L848.72,486.95 L848.62,486.44 L848.52,485.94 L848.42,485.44 L848.32,484.94 L848.22,484.44 L848.11,483.94 L848.01,483.44 L847.91,482.94 L847.81,482.44 L847.71,481.93 L847.60,481.43 L847.50,480.93 L847.40,480.43 L847.29,479.93 L847.19,479.43 L847.09,478.93 L846.98,478.43 L846.88,477.92 L846.77,477.42 L846.67,476.92 L846.57,476.42 L846.46,475.92 L846.36,475.42 L846.25,474.92 L846.15,474.42 L846.04,473.92 L845.94,473.41 L845.83,472.91 L845.72,472.41 L845.62,471.91 L845.51,471.41 L845.41,470.91 L845.30,470.41 L845.20,469.91 L845.09,469.40 L844.99,468.90 L844.88,468.40 L844.78,467.90 L844.67,467.40 L844.57,466.90 L844.46,466.40 L844.36,465.90 L844.25,465.40 L844.15,464.89 L844.04,464.39 L843.94,463.89 L843.83,463.39 L843.73,462.89 L843.63,462.39 L843.52,461.89 L843.42,461.39 L843.31,460.88 L843.21,460.38 L843.11,459.88 L843.01,459.38 L842.90,458.88 L842.80,458.38 L842.70,457.88 L842.60,457.38 L842.50,456.88 L842.39,456.37 L842.29,455.87 L842.19,455.37 L842.09,454.87 L841.99,454.37 L841.89,453.87 L841.79,453.37 L841.69,452.87 L841.60,452.36 L841.50,451.86 L841.40,451.36 L841.30,450.86 L841.21,450.36 L841.11,449.86 L841.01,449.36 L840.92,448.86 L840.82,448.36 L840.73,447.85 L840.63,447.35 L840.54,446.85 L840.45,446.35 L840.35,445.85 L840.26,445.35 L840.17,444.85 L840.08,444.35 L839.99,443.84 L839.90,443.34 L839.81,442.84 L839.72,442.34 L839.63,441.84 L839.54,441.34 L839.45,440.84 L839.37,440.34 L839.28,439.84 L839.20,439.33 L839.11,438.83 L839.03,438.33 L838.94,437.83 L838.86,437.33 L838.78,436.83 L838.70,436.33 L838.62,435.83 L838.54,435.32 L838.46,434.82 L838.38,434.32 L838.30,433.82 L838.22,433.32 L838.15,432.82 L838.07,432.32 L837.99,431.82 L837.92,431.32 L837.85,430.81 L837.77,430.31 L837.70,429.81 L837.63,429.31 L837.56,428.81 L837.49,428.31 L837.42,427.81 L837.36,427.31 L837.29,426.80 L837.22,426.30 L837.16,425.80 L837.09,425.30 L837.03,424.80 L836.97,424.30 L836.91,423.80 L836.85,423.30 L836.79,422.80 L836.73,422.29 L836.67,421.79 L836.62,421.29 L836.56,420.79 L836.51,420.29 L836.45,419.79 L836.40,419.29 L836.35,418.79 L836.30,418.28 L836.25,417.78 L836.20,417.28 L836.15,416.78 L836.11,416.28 L836.06,415.78 L836.02,415.28 L835.97,414.78 L835.93,414.28 L835.89,413.77 L835.85,413.27 L835.81,412.77 L835.77,412.27 L835.74,411.77 L835.70,411.27 L835.66,410.77 L835.63,410.27 L835.60,409.76 L835.56,409.26 L835.53,408.76 L835.50,408.26 L835.47,407.76 L835.44,407.26 L835.41,406.76 L835.38,406.26 L835.36,405.76 L835.33,405.25 L835.31,404.75 L835.28,404.25 L835.26,403.75 L835.24,403.25 L835.22,402.75 L835.20,402.25 L835.18,401.75 L835.16,401.24 L835.14,400.74 L835.12,400.24 L835.10,399.74 L835.09,399.24 L835.07,398.74 L835.06,398.24 L835.04,397.74 L835.03,397.24 L835.02,396.73 L835.01,396.23 L835.00,395.73 L834.98,395.23 L834.97,394.73 L834.97,394.23 L834.96,393.73 L834.95,393.23 L834.94,392.72 L834.94,392.22 L834.93,391.72 L834.93,391.22 L834.92,390.72 L834.92,390.22 L834.91,389.72 L834.91,389.22 L834.91,388.72 L834.91,388.21 L834.91,387.71 L834.91,387.21 L834.91,386.71 L834.91,386.21 L834.91,385.71 L834.91,385.21 L834.91,384.71 L834.92,384.20 L834.92,383.70 L834.92,383.20 L834.93,382.70 L834.93,382.20 L834.94,381.70 L834.94,381.20 L834.95,380.70 L834.96,380.20 L834.96,379.69 L834.97,379.19 L834.98,378.69 L834.99,378.19 L835.00,377.69 L835.00,377.19 L835.01,376.69 L835.02,376.19 L835.03,375.68 L835.05,375.18 L835.06,374.68 L835.07,374.18 L835.08,373.68 L835.09,373.18 L835.10,372.68 L835.12,372.18 L835.13,371.68 L835.14,371.17 L835.16,370.67 L835.17,370.17 L835.19,369.67 L835.20,369.17 L835.22,368.67 L835.23,368.17 L835.25,367.67 L835.26,367.16 L835.28,366.66 L835.29,366.16 L835.31,365.66 L835.33,365.16 L835.34,364.66 L835.36,364.16 L835.38,363.66 L835.40,363.16 L835.41,362.65 L835.43,362.15 L835.45,361.65 L835.47,361.15 L835.48,360.65 L835.50,360.15 L835.52,359.65 L835.54,359.15 L835.56,358.64 L835.58,358.14 L835.60,357.64 L835.61,357.14 L835.63,356.64 L835.65,356.14 L835.67,355.64 L835.69,355.14 L835.71,354.64 L835.73,354.13 L835.75,353.63 L835.77,353.13 L835.79,352.63 L835.81,352.13 L835.83,351.63 L835.85,351.13 L835.87,350.63 L835.88,350.12 L835.90,349.62 L835.92,349.12 L835.94,348.62 L835.96,348.12 L835.98,347.62 L836.00,347.12 L836.02,346.62 L836.04,346.12 L836.06,345.61 L836.08,345.11 L836.09,344.61 L836.11,344.11 L836.13,343.61 L836.15,343.11 L836.17,342.61 L836.18,342.11 L836.20,341.60 L836.22,341.10 L836.24,340.60 L836.25,340.10 L836.27,339.60 L836.29,339.10 L836.31,338.60 L836.32,338.10 L836.34,337.60 L836.35,337.09 L836.37,336.59 L836.39,336.09 L836.40,335.59 L836.42,335.09 L836.43,334.59 L836.45,334.09 L836.47,333.59 L836.48,333.08 L836.50,332.58 L836.51,332.08 L836.53,331.58 L836.54,331.08 L836.56,330.58 L836.57,330.08 L836.58,329.58 L836.60,329.08 L836.61,328.57 L836.63,328.07 L836.64,327.57 L836.66,327.07 L836.67,326.57 L836.68,326.07 L836.70,325.57 L836.71,325.07 L836.73,324.56 L836.74,324.06 L836.75,323.56 L836.77,323.06 L836.78,322.56 L836.79,322.06 L836.81,321.56 L836.82,321.06 L836.84,320.56 L836.85,320.05 L836.86,319.55 L836.88,319.05 L836.89,318.55 L836.90,318.05 L836.92,317.55 L836.93,317.05 L836.94,316.55 L836.96,316.04 L836.97,315.54 L836.98,315.04 L837.00,314.54 L837.01,314.04 L837.02,313.54 L837.04,313.04 L837.05,312.54 L837.07,312.04 L837.08,311.53 L837.09,311.03 L837.11,310.53 L837.12,310.03 L837.13,309.53 L837.15,309.03 L837.16,308.53 L837.18,308.03 L837.19,307.52 L837.20,307.02 L837.22,306.52 L837.23,306.02 L837.25,305.52 L837.26,305.02 L837.28,304.52 L837.29,304.02 L837.31,303.52 L837.32,303.01 L837.34,302.51 L837.35,302.01 L837.37,301.51 L837.38,301.01 L837.40,300.51 L837.41,300.01 L837.43,299.51 L837.44,299.00 L837.46,298.50 L837.48,298.00 L837.49,297.50 L837.51,297.00 L837.52,296.50 L837.54,296.00 L837.56,295.50 L837.57,295.00 L837.59,294.49 L837.61,293.99 L837.63,293.49 L837.64,292.99 L837.66,292.49 L837.68,291.99 L837.70,291.49 L837.72,290.99 L837.73,290.48 L837.75,289.98 L837.77,289.48 L837.79,288.98 L837.81,288.48 L837.83,287.98 L837.85,287.48 L837.87,286.98 L837.89,286.48 L837.91,285.97 L837.93,285.47 L837.95,284.97 L837.97,284.47 L837.99,283.97 L838.01,283.47 L838.04,282.97 L838.06,282.47 L838.08,281.96 L838.10,281.46 L838.13,280.96 L838.15,280.46 L838.17,279.96 L838.19,279.46 L838.22,278.96 L838.24,278.46 L838.27,277.96 L838.29,277.45 L838.32,276.95 L838.34,276.45 L838.37,275.95 L838.39,275.45 L838.42,274.95 L838.44,274.45 L838.47,273.95 L838.50,273.44 L838.53,272.94 L838.55,272.44 L838.58,271.94 L838.61,271.44 L838.64,270.94 L838.67,270.44 L838.70,269.94 L838.73,269.44 L838.76,268.93 L838.79,268.43 L838.82,267.93 L838.85,267.43 L838.88,266.93 L838.91,266.43 L838.94,265.93 L838.97,265.43 L839.01,264.92 L839.04,264.42 L839.07,263.92 L839.11,263.42 L839.14,262.92 L839.18,262.42 L839.21,261.92 L839.25,261.42 L839.28,260.92 L839.32,260.41 L839.36,259.91 L839.39,259.41 L839.43,258.91 L839.47,258.41 L839.51,257.91 L839.54,257.41 L839.58,256.91 L839.62,256.40 L839.66,255.90 L839.70,255.40 L839.74,254.90 L839.79,254.40 Z" fill="#F18C8D" stroke="#222" stroke-width="2.2" stroke-linejoin="round"/>
<path d="M810.80,340.7 H912.60 M810.80,406.9 H912.60 M861.70,340.7 V406.9" stroke="#000" stroke-width="2.1" stroke-linecap="round" fill="none"/>
<circle cx="861.70" cy="251.7" r="5.0" fill="#000"/>
<circle cx="861.70" cy="269.7" r="5.0" fill="#000"/>
<circle cx="861.70" cy="289.1" r="5.0" fill="#000"/>
<circle cx="861.70" cy="371.6" r="5.0" fill="#000"/>
<circle cx="861.70" cy="385.8" r="5.0" fill="#000"/>
<circle cx="861.70" cy="408.3" r="5.0" fill="#000"/>
<circle cx="861.70" cy="427.1" r="5.0" fill="#000"/>
<circle cx="861.70" cy="452.3" r="5.0" fill="#000"/>
<circle cx="861.70" cy="590.4" r="5.0" fill="#000"/>
<path d="M1251.81,542.40 L1251.94,542.90 L1252.07,543.40 L1252.20,543.91 L1252.33,544.41 L1252.45,544.91 L1252.57,545.41 L1252.68,545.92 L1252.80,546.42 L1252.91,546.92 L1253.02,547.42 L1253.13,547.93 L1253.23,548.43 L1253.33,548.93 L1253.43,549.43 L1253.53,549.94 L1253.63,550.44 L1253.72,550.94 L1253.81,551.44 L1253.90,551.95 L1253.99,552.45 L1254.07,552.95 L1254.15,553.45 L1254.23,553.96 L1254.31,554.46 L1254.39,554.96 L1254.46,555.46 L1254.53,555.97 L1254.60,556.47 L1254.67,556.97 L1254.74,557.47 L1254.80,557.98 L1254.86,558.48 L1254.92,558.98 L1254.98,559.48 L1255.04,559.98 L1255.09,560.49 L1255.15,560.99 L1255.20,561.49 L1255.25,561.99 L1255.29,562.50 L1255.34,563.00 L1255.38,563.50 L1255.42,564.00 L1255.46,564.51 L1255.50,565.01 L1255.54,565.51 L1255.58,566.01 L1255.61,566.52 L1255.64,567.02 L1255.67,567.52 L1255.70,568.02 L1255.73,568.53 L1255.75,569.03 L1255.78,569.53 L1255.80,570.03 L1255.82,570.54 L1255.84,571.04 L1255.86,571.54 L1255.88,572.04 L1255.90,572.55 L1255.91,573.05 L1255.92,573.55 L1255.94,574.05 L1255.95,574.56 L1255.96,575.06 L1255.97,575.56 L1255.97,576.06 L1255.98,576.56 L1255.98,577.07 L1255.99,577.57 L1255.99,578.07 L1255.99,578.57 L1255.99,579.08 L1255.99,579.58 L1255.99,580.08 L1255.99,580.58 L1255.98,581.09 L1255.98,581.59 L1255.97,582.09 L1255.97,582.59 L1255.96,583.10 L1255.95,583.60 L1255.94,584.10 L1255.93,584.60 L1255.92,585.11 L1255.91,585.61 L1255.89,586.11 L1255.88,586.61 L1255.87,587.12 L1255.85,587.62 L1255.84,588.12 L1255.82,588.62 L1255.80,589.13 L1255.79,589.63 L1255.77,590.13 L1255.75,590.63 L1255.73,591.14 L1255.71,591.64 L1255.69,592.14 L1255.67,592.64 L1255.65,593.14 L1255.62,593.65 L1255.60,594.15 L1255.58,594.65 L1255.56,595.15 L1255.53,595.66 L1255.51,596.16 L1255.48,596.66 L1255.46,597.16 L1255.43,597.67 L1255.41,598.17 L1255.38,598.67 L1255.36,599.17 L1255.33,599.68 L1255.30,600.18 L1255.28,600.68 L1255.25,601.18 L1255.22,601.69 L1255.20,602.19 L1255.17,602.69 L1255.14,603.19 L1255.11,603.70 L1255.09,604.20 L1255.06,604.70 L1255.03,605.20 L1255.01,605.71 L1254.98,606.21 L1254.95,606.71 L1254.92,607.21 L1254.90,607.72 L1254.87,608.22 L1254.84,608.72 L1254.82,609.22 L1254.79,609.72 L1254.76,610.23 L1254.74,610.73 L1254.71,611.23 L1254.69,611.73 L1254.66,612.24 L1254.64,612.74 L1254.61,613.24 L1254.59,613.74 L1254.56,614.25 L1254.54,614.75 L1254.52,615.25 L1254.50,615.75 L1254.47,616.26 L1254.45,616.76 L1254.43,617.26 L1254.41,617.76 L1254.39,618.27 L1254.37,618.77 L1254.35,619.27 L1254.33,619.77 L1254.32,620.28 L1254.30,620.78 L1254.28,621.28 L1254.27,621.78 L1254.25,622.29 L1254.24,622.79 L1254.22,623.29 L1254.21,623.79 L1254.20,624.30 L1254.19,624.80 L1254.18,625.30 L1254.17,625.80 L1254.16,626.30 L1254.15,626.81 L1254.15,627.31 L1254.14,627.81 L1254.14,628.31 L1254.13,628.82 L1254.13,629.32 L1254.13,629.82 L1254.13,630.32 L1254.13,630.83 L1254.13,631.33 L1254.13,631.83 L1254.14,632.33 L1254.14,632.84 L1254.15,633.34 L1254.15,633.84 L1254.16,634.34 L1254.17,634.85 L1254.18,635.35 L1254.19,635.85 L1254.21,636.35 L1254.22,636.86 L1254.24,637.36 L1254.26,637.86 L1254.28,638.36 L1254.30,638.87 L1254.32,639.37 L1254.34,639.87 L1254.37,640.37 L1254.39,640.88 L1254.42,641.38 L1254.45,641.88 L1254.48,642.38 L1254.51,642.88 L1254.54,643.39 L1254.58,643.89 L1254.62,644.39 L1254.66,644.89 L1254.70,645.40 L1254.74,645.90 L1254.78,646.40 L1254.83,646.90 L1254.87,647.41 L1254.92,647.91 L1254.97,648.41 L1255.02,648.91 L1255.07,649.42 L1255.12,649.92 L1255.17,650.42 L1255.22,650.92 L1255.28,651.43 L1255.33,651.93 L1255.39,652.43 L1255.44,652.93 L1255.50,653.44 L1255.56,653.94 L1255.61,654.44 L1255.67,654.94 L1255.73,655.45 L1255.79,655.95 L1255.85,656.45 L1255.91,656.95 L1255.97,657.46 L1256.03,657.96 L1256.09,658.46 L1256.15,658.96 L1256.20,659.46 L1256.26,659.97 L1256.32,660.47 L1256.38,660.97 L1256.44,661.47 L1256.50,661.98 L1256.55,662.48 L1256.61,662.98 L1256.67,663.48 L1256.72,663.99 L1256.78,664.49 L1256.83,664.99 L1256.88,665.49 L1256.93,666.00 L1256.99,666.50 L1257.04,667.00 L1257.08,667.50 L1257.13,668.01 L1257.18,668.51 L1257.22,669.01 L1257.27,669.51 L1257.31,670.02 L1257.35,670.52 L1257.39,671.02 L1257.43,671.52 L1257.47,672.03 L1257.50,672.53 L1257.53,673.03 L1257.56,673.53 L1257.59,674.04 L1257.62,674.54 L1257.65,675.04 L1257.67,675.54 L1257.69,676.04 L1257.71,676.55 L1257.73,677.05 L1257.74,677.55 L1257.75,678.05 L1257.76,678.56 L1257.77,679.06 L1257.78,679.56 L1257.78,680.06 L1257.78,680.57 L1257.78,681.07 L1257.77,681.57 L1257.76,682.07 L1257.75,682.58 L1257.73,683.08 L1257.72,683.58 L1257.70,684.08 L1257.67,684.59 L1257.65,685.09 L1257.62,685.59 L1257.58,686.09 L1257.55,686.60 L1257.51,687.10 L1257.46,687.60 L1257.42,688.10 L1257.36,688.61 L1257.31,689.11 L1257.25,689.61 L1257.19,690.11 L1257.12,690.62 L1257.06,691.12 L1256.98,691.62 L1256.90,692.12 L1256.82,692.62 L1256.74,693.13 L1256.65,693.63 L1256.55,694.13 L1256.45,694.63 L1256.35,695.14 L1256.24,695.64 L1256.13,696.14 L1256.01,696.64 L1255.89,697.15 L1255.77,697.65 L1255.64,698.15 L1255.50,698.65 L1255.36,699.16 L1255.22,699.66 L1255.07,700.16 L1254.91,700.66 L1254.75,701.17 L1254.59,701.67 L1254.42,702.17 L1254.24,702.67 L1254.06,703.18 L1253.87,703.68 L1253.68,704.18 L1253.48,704.68 L1253.28,705.19 L1253.07,705.69 L1252.86,706.19 L1252.64,706.69 L1252.41,707.20 L1252.18,707.70 L1251.94,708.20 L1223.86,708.20 L1223.62,707.70 L1223.39,707.20 L1223.16,706.69 L1222.94,706.19 L1222.73,705.69 L1222.52,705.19 L1222.32,704.68 L1222.12,704.18 L1221.93,703.68 L1221.74,703.18 L1221.56,702.67 L1221.38,702.17 L1221.21,701.67 L1221.05,701.17 L1220.89,700.66 L1220.73,700.16 L1220.58,699.66 L1220.44,699.16 L1220.30,698.65 L1220.16,698.15 L1220.03,697.65 L1219.91,697.15 L1219.79,696.64 L1219.67,696.14 L1219.56,695.64 L1219.45,695.14 L1219.35,694.63 L1219.25,694.13 L1219.15,693.63 L1219.06,693.13 L1218.98,692.62 L1218.90,692.12 L1218.82,691.62 L1218.74,691.12 L1218.68,690.62 L1218.61,690.11 L1218.55,689.61 L1218.49,689.11 L1218.44,688.61 L1218.38,688.10 L1218.34,687.60 L1218.29,687.10 L1218.25,686.60 L1218.22,686.09 L1218.18,685.59 L1218.15,685.09 L1218.13,684.59 L1218.10,684.08 L1218.08,683.58 L1218.07,683.08 L1218.05,682.58 L1218.04,682.07 L1218.03,681.57 L1218.02,681.07 L1218.02,680.57 L1218.02,680.06 L1218.02,679.56 L1218.03,679.06 L1218.04,678.56 L1218.05,678.05 L1218.06,677.55 L1218.07,677.05 L1218.09,676.55 L1218.11,676.04 L1218.13,675.54 L1218.15,675.04 L1218.18,674.54 L1218.21,674.04 L1218.24,673.53 L1218.27,673.03 L1218.30,672.53 L1218.33,672.03 L1218.37,671.52 L1218.41,671.02 L1218.45,670.52 L1218.49,670.02 L1218.53,669.51 L1218.58,669.01 L1218.62,668.51 L1218.67,668.01 L1218.72,667.50 L1218.76,667.00 L1218.81,666.50 L1218.87,666.00 L1218.92,665.49 L1218.97,664.99 L1219.02,664.49 L1219.08,663.99 L1219.13,663.48 L1219.19,662.98 L1219.25,662.48 L1219.30,661.98 L1219.36,661.47 L1219.42,660.97 L1219.48,660.47 L1219.54,659.97 L1219.60,659.46 L1219.65,658.96 L1219.71,658.46 L1219.77,657.96 L1219.83,657.46 L1219.89,656.95 L1219.95,656.45 L1220.01,655.95 L1220.07,655.45 L1220.13,654.94 L1220.19,654.44 L1220.24,653.94 L1220.30,653.44 L1220.36,652.93 L1220.41,652.43 L1220.47,651.93 L1220.52,651.43 L1220.58,650.92 L1220.63,650.42 L1220.68,649.92 L1220.73,649.42 L1220.78,648.91 L1220.83,648.41 L1220.88,647.91 L1220.93,647.41 L1220.97,646.90 L1221.02,646.40 L1221.06,645.90 L1221.10,645.40 L1221.14,644.89 L1221.18,644.39 L1221.22,643.89 L1221.26,643.39 L1221.29,642.88 L1221.32,642.38 L1221.35,641.88 L1221.38,641.38 L1221.41,640.88 L1221.43,640.37 L1221.46,639.87 L1221.48,639.37 L1221.50,638.87 L1221.52,638.36 L1221.54,637.86 L1221.56,637.36 L1221.58,636.86 L1221.59,636.35 L1221.61,635.85 L1221.62,635.35 L1221.63,634.85 L1221.64,634.34 L1221.65,633.84 L1221.65,633.34 L1221.66,632.84 L1221.66,632.33 L1221.67,631.83 L1221.67,631.33 L1221.67,630.83 L1221.67,630.32 L1221.67,629.82 L1221.67,629.32 L1221.67,628.82 L1221.66,628.31 L1221.66,627.81 L1221.65,627.31 L1221.65,626.81 L1221.64,626.30 L1221.63,625.80 L1221.62,625.30 L1221.61,624.80 L1221.60,624.30 L1221.59,623.79 L1221.58,623.29 L1221.56,622.79 L1221.55,622.29 L1221.53,621.78 L1221.52,621.28 L1221.50,620.78 L1221.48,620.28 L1221.47,619.77 L1221.45,619.27 L1221.43,618.77 L1221.41,618.27 L1221.39,617.76 L1221.37,617.26 L1221.35,616.76 L1221.33,616.26 L1221.30,615.75 L1221.28,615.25 L1221.26,614.75 L1221.24,614.25 L1221.21,613.74 L1221.19,613.24 L1221.16,612.74 L1221.14,612.24 L1221.11,611.73 L1221.09,611.23 L1221.06,610.73 L1221.04,610.23 L1221.01,609.72 L1220.98,609.22 L1220.96,608.72 L1220.93,608.22 L1220.90,607.72 L1220.88,607.21 L1220.85,606.71 L1220.82,606.21 L1220.79,605.71 L1220.77,605.20 L1220.74,604.70 L1220.71,604.20 L1220.69,603.70 L1220.66,603.19 L1220.63,602.69 L1220.60,602.19 L1220.58,601.69 L1220.55,601.18 L1220.52,600.68 L1220.50,600.18 L1220.47,599.68 L1220.44,599.17 L1220.42,598.67 L1220.39,598.17 L1220.37,597.67 L1220.34,597.16 L1220.32,596.66 L1220.29,596.16 L1220.27,595.66 L1220.24,595.15 L1220.22,594.65 L1220.20,594.15 L1220.18,593.65 L1220.15,593.14 L1220.13,592.64 L1220.11,592.14 L1220.09,591.64 L1220.07,591.14 L1220.05,590.63 L1220.03,590.13 L1220.01,589.63 L1220.00,589.13 L1219.98,588.62 L1219.96,588.12 L1219.95,587.62 L1219.93,587.12 L1219.92,586.61 L1219.91,586.11 L1219.89,585.61 L1219.88,585.11 L1219.87,584.60 L1219.86,584.10 L1219.85,583.60 L1219.84,583.10 L1219.83,582.59 L1219.83,582.09 L1219.82,581.59 L1219.82,581.09 L1219.81,580.58 L1219.81,580.08 L1219.81,579.58 L1219.81,579.08 L1219.81,578.57 L1219.81,578.07 L1219.81,577.57 L1219.82,577.07 L1219.82,576.56 L1219.83,576.06 L1219.83,575.56 L1219.84,575.06 L1219.85,574.56 L1219.86,574.05 L1219.88,573.55 L1219.89,573.05 L1219.90,572.55 L1219.92,572.04 L1219.94,571.54 L1219.96,571.04 L1219.98,570.54 L1220.00,570.03 L1220.02,569.53 L1220.05,569.03 L1220.07,568.53 L1220.10,568.02 L1220.13,567.52 L1220.16,567.02 L1220.19,566.52 L1220.22,566.01 L1220.26,565.51 L1220.30,565.01 L1220.34,564.51 L1220.38,564.00 L1220.42,563.50 L1220.46,563.00 L1220.51,562.50 L1220.55,561.99 L1220.60,561.49 L1220.65,560.99 L1220.71,560.49 L1220.76,559.98 L1220.82,559.48 L1220.88,558.98 L1220.94,558.48 L1221.00,557.98 L1221.06,557.47 L1221.13,556.97 L1221.20,556.47 L1221.27,555.97 L1221.34,555.46 L1221.41,554.96 L1221.49,554.46 L1221.57,553.96 L1221.65,553.45 L1221.73,552.95 L1221.81,552.45 L1221.90,551.95 L1221.99,551.44 L1222.08,550.94 L1222.17,550.44 L1222.27,549.94 L1222.37,549.43 L1222.47,548.93 L1222.57,548.43 L1222.67,547.93 L1222.78,547.42 L1222.89,546.92 L1223.00,546.42 L1223.12,545.92 L1223.23,545.41 L1223.35,544.91 L1223.47,544.41 L1223.60,543.91 L1223.73,543.40 L1223.86,542.90 L1223.99,542.40 Z" fill="#9BBEDB" stroke="#222" stroke-width="2.2" stroke-linejoin="round"/>
<path d="M1185.60,589.7 H1290.20 M1185.60,627.1 H1290.20 M1237.90,589.7 V627.1" stroke="#000" stroke-width="2.1" stroke-linecap="round" fill="none"/>
<circle cx="1237.90" cy="542" r="5.0" fill="#000"/>
<circle cx="1237.90" cy="554.8" r="5.0" fill="#000"/>
<circle cx="1237.90" cy="586" r="5.0" fill="#000"/>
<circle cx="1237.90" cy="593.3" r="5.0" fill="#000"/>
<circle cx="1237.90" cy="655.1" r="5.0" fill="#000"/>
<circle cx="1237.90" cy="669.8" r="5.0" fill="#000"/>
<circle cx="1237.90" cy="676.2" r="5.0" fill="#000"/>
<circle cx="1237.90" cy="687.1" r="5.0" fill="#000"/>
<circle cx="1237.90" cy="708.7" r="5.0" fill="#000"/>
<path d="M1472.58,467.30 L1472.03,467.80 L1471.46,468.31 L1470.85,468.81 L1470.22,469.32 L1469.56,469.82 L1468.89,470.33 L1468.19,470.83 L1467.48,471.34 L1466.75,471.84 L1466.02,472.34 L1465.28,472.85 L1464.53,473.35 L1463.78,473.86 L1463.03,474.36 L1462.29,474.87 L1461.55,475.37 L1460.83,475.88 L1460.11,476.38 L1459.41,476.88 L1458.73,477.39 L1458.06,477.89 L1457.42,478.40 L1456.81,478.90 L1456.23,479.41 L1455.68,479.91 L1455.16,480.41 L1454.68,480.92 L1454.24,481.42 L1453.83,481.93 L1453.47,482.43 L1453.15,482.94 L1452.87,483.44 L1452.64,483.95 L1452.44,484.45 L1452.29,484.95 L1452.18,485.46 L1452.12,485.96 L1452.11,486.47 L1452.14,486.97 L1452.22,487.48 L1452.35,487.98 L1452.52,488.49 L1452.75,488.99 L1453.02,489.49 L1453.35,490.00 L1453.73,490.50 L1454.16,491.01 L1454.64,491.51 L1455.17,492.02 L1455.77,492.52 L1456.42,493.03 L1457.15,493.53 L1457.95,494.03 L1458.86,494.54 L1459.86,495.04 L1460.97,495.55 L1462.21,496.05 L1463.58,496.56 L1465.09,497.06 L1466.74,497.57 L1468.54,498.07 L1470.48,498.57 L1472.55,499.08 L1474.74,499.58 L1477.05,500.09 L1479.48,500.59 L1482.01,501.10 L1484.65,501.60 L1487.38,502.10 L1490.19,502.61 L1493.08,503.11 L1496.04,503.62 L1499.03,504.12 L1502.06,504.63 L1505.10,505.13 L1508.14,505.64 L1511.18,506.14 L1514.18,506.64 L1517.15,507.15 L1520.06,507.65 L1522.90,508.16 L1525.65,508.66 L1528.31,509.17 L1530.86,509.67 L1533.28,510.18 L1535.55,510.68 L1537.68,511.18 L1539.63,511.69 L1541.40,512.19 L1542.97,512.70 L1544.33,513.20 L1545.47,513.71 L1546.36,514.21 L1546.99,514.72 L1547.38,515.22 L1547.53,515.72 L1547.45,516.23 L1547.16,516.73 L1546.68,517.24 L1546.01,517.74 L1545.17,518.25 L1544.18,518.75 L1543.05,519.26 L1541.78,519.76 L1540.40,520.26 L1538.93,520.77 L1537.36,521.27 L1535.72,521.78 L1534.02,522.28 L1532.28,522.79 L1530.51,523.29 L1528.71,523.80 L1526.91,524.30 L1525.12,524.80 L1523.32,525.31 L1521.52,525.81 L1519.71,526.32 L1517.88,526.82 L1516.03,527.33 L1514.14,527.83 L1512.22,528.33 L1510.26,528.84 L1508.25,529.34 L1506.19,529.85 L1504.07,530.35 L1501.88,530.86 L1499.63,531.36 L1497.33,531.87 L1495.02,532.37 L1492.73,532.87 L1490.49,533.38 L1488.33,533.88 L1486.27,534.39 L1484.36,534.89 L1482.62,535.40 L1481.07,535.90 L1479.73,536.41 L1478.58,536.91 L1477.60,537.41 L1476.80,537.92 L1476.15,538.42 L1475.65,538.93 L1475.29,539.43 L1475.06,539.94 L1474.94,540.44 L1474.94,540.95 L1475.03,541.45 L1475.20,541.95 L1475.46,542.46 L1475.78,542.96 L1476.15,543.47 L1476.57,543.97 L1477.03,544.48 L1477.51,544.98 L1478.01,545.49 L1478.51,545.99 L1479.00,546.49 L1479.48,547.00 L1479.94,547.50 L1480.36,548.01 L1480.76,548.51 L1481.12,549.02 L1481.45,549.52 L1481.74,550.02 L1481.99,550.53 L1482.20,551.03 L1482.36,551.54 L1482.47,552.04 L1482.53,552.55 L1482.53,553.05 L1482.48,553.56 L1482.37,554.06 L1482.19,554.56 L1481.95,555.07 L1481.65,555.57 L1481.27,556.08 L1480.82,556.58 L1480.29,557.09 L1479.69,557.59 L1479.00,558.10 L1478.23,558.60 L1424.17,558.60 L1423.40,558.10 L1422.71,557.59 L1422.11,557.09 L1421.58,556.58 L1421.13,556.08 L1420.75,555.57 L1420.45,555.07 L1420.21,554.56 L1420.03,554.06 L1419.92,553.56 L1419.87,553.05 L1419.87,552.55 L1419.93,552.04 L1420.04,551.54 L1420.20,551.03 L1420.41,550.53 L1420.66,550.02 L1420.95,549.52 L1421.28,549.02 L1421.64,548.51 L1422.04,548.01 L1422.46,547.50 L1422.92,547.00 L1423.40,546.49 L1423.89,545.99 L1424.39,545.49 L1424.89,544.98 L1425.37,544.48 L1425.83,543.97 L1426.25,543.47 L1426.62,542.96 L1426.94,542.46 L1427.20,541.95 L1427.37,541.45 L1427.46,540.95 L1427.46,540.44 L1427.34,539.94 L1427.11,539.43 L1426.75,538.93 L1426.25,538.42 L1425.60,537.92 L1424.80,537.41 L1423.82,536.91 L1422.67,536.41 L1421.33,535.90 L1419.78,535.40 L1418.04,534.89 L1416.13,534.39 L1414.07,533.88 L1411.91,533.38 L1409.67,532.87 L1407.38,532.37 L1405.07,531.87 L1402.77,531.36 L1400.52,530.86 L1398.33,530.35 L1396.21,529.85 L1394.15,529.34 L1392.14,528.84 L1390.18,528.33 L1388.26,527.83 L1386.37,527.33 L1384.52,526.82 L1382.69,526.32 L1380.88,525.81 L1379.08,525.31 L1377.28,524.80 L1375.49,524.30 L1373.69,523.80 L1371.89,523.29 L1370.12,522.79 L1368.38,522.28 L1366.68,521.78 L1365.04,521.27 L1363.47,520.77 L1362.00,520.26 L1360.62,519.76 L1359.35,519.26 L1358.22,518.75 L1357.23,518.25 L1356.39,517.74 L1355.72,517.24 L1355.24,516.73 L1354.95,516.23 L1354.87,515.72 L1355.02,515.22 L1355.41,514.72 L1356.04,514.21 L1356.93,513.71 L1358.07,513.20 L1359.43,512.70 L1361.00,512.19 L1362.77,511.69 L1364.72,511.18 L1366.85,510.68 L1369.12,510.18 L1371.54,509.67 L1374.09,509.17 L1376.75,508.66 L1379.50,508.16 L1382.34,507.65 L1385.25,507.15 L1388.22,506.64 L1391.22,506.14 L1394.26,505.64 L1397.30,505.13 L1400.34,504.63 L1403.37,504.12 L1406.36,503.62 L1409.32,503.11 L1412.21,502.61 L1415.02,502.10 L1417.75,501.60 L1420.39,501.10 L1422.92,500.59 L1425.35,500.09 L1427.66,499.58 L1429.85,499.08 L1431.92,498.57 L1433.86,498.07 L1435.66,497.57 L1437.31,497.06 L1438.82,496.56 L1440.19,496.05 L1441.43,495.55 L1442.54,495.04 L1443.54,494.54 L1444.45,494.03 L1445.25,493.53 L1445.98,493.03 L1446.63,492.52 L1447.23,492.02 L1447.76,491.51 L1448.24,491.01 L1448.67,490.50 L1449.05,490.00 L1449.38,489.49 L1449.65,488.99 L1449.88,488.49 L1450.05,487.98 L1450.18,487.48 L1450.26,486.97 L1450.29,486.47 L1450.28,485.96 L1450.22,485.46 L1450.11,484.95 L1449.96,484.45 L1449.76,483.95 L1449.53,483.44 L1449.25,482.94 L1448.93,482.43 L1448.57,481.93 L1448.16,481.42 L1447.72,480.92 L1447.24,480.41 L1446.72,479.91 L1446.17,479.41 L1445.59,478.90 L1444.98,478.40 L1444.34,477.89 L1443.67,477.39 L1442.99,476.88 L1442.29,476.38 L1441.57,475.88 L1440.85,475.37 L1440.11,474.87 L1439.37,474.36 L1438.62,473.86 L1437.87,473.35 L1437.12,472.85 L1436.38,472.34 L1435.65,471.84 L1434.92,471.34 L1434.21,470.83 L1433.51,470.33 L1432.84,469.82 L1432.18,469.32 L1431.55,468.81 L1430.94,468.31 L1430.37,467.80 L1429.82,467.30 Z" fill="#A6D7A4" stroke="#222" stroke-width="2.2" stroke-linejoin="round"/>
<path d="M1398.90,494.0 H1503.50 M1398.90,509.7 H1503.50 M1451.20,494.0 V509.7" stroke="#000" stroke-width="2.1" stroke-linecap="round" fill="none"/>
<circle cx="1451.20" cy="466.9" r="5.0" fill="#000"/>
<circle cx="1451.20" cy="507.8" r="5.0" fill="#000"/>
<circle cx="1451.20" cy="512.7" r="5.0" fill="#000"/>
<circle cx="1451.20" cy="517.5" r="5.0" fill="#000"/>
<circle cx="1451.20" cy="528.0" r="5.0" fill="#000"/>
<circle cx="1451.20" cy="529.7" r="5.0" fill="#000"/>
<circle cx="1451.20" cy="547.4" r="5.0" fill="#000"/>
<circle cx="1451.20" cy="559.3" r="5.0" fill="#000"/>
<path d="M1675.36,383.30 L1675.33,383.80 L1675.31,384.30 L1675.29,384.81 L1675.28,385.31 L1675.26,385.81 L1675.25,386.31 L1675.23,386.81 L1675.22,387.32 L1675.21,387.82 L1675.20,388.32 L1675.20,388.82 L1675.19,389.32 L1675.19,389.83 L1675.18,390.33 L1675.18,390.83 L1675.18,391.33 L1675.18,391.83 L1675.17,392.34 L1675.17,392.84 L1675.18,393.34 L1675.18,393.84 L1675.18,394.34 L1675.18,394.84 L1675.18,395.35 L1675.19,395.85 L1675.19,396.35 L1675.19,396.85 L1675.20,397.35 L1675.20,397.86 L1675.20,398.36 L1675.21,398.86 L1675.21,399.36 L1675.21,399.86 L1675.21,400.37 L1675.22,400.87 L1675.22,401.37 L1675.22,401.87 L1675.22,402.37 L1675.22,402.88 L1675.22,403.38 L1675.22,403.88 L1675.21,404.38 L1675.21,404.88 L1675.20,405.39 L1675.20,405.89 L1675.19,406.39 L1675.18,406.89 L1675.17,407.39 L1675.16,407.90 L1675.15,408.40 L1675.13,408.90 L1675.12,409.40 L1675.10,409.90 L1675.08,410.41 L1675.06,410.91 L1675.04,411.41 L1675.01,411.91 L1674.99,412.41 L1674.96,412.91 L1674.93,413.42 L1674.89,413.92 L1674.86,414.42 L1674.82,414.92 L1674.78,415.42 L1674.74,415.93 L1674.69,416.43 L1674.64,416.93 L1674.59,417.43 L1674.54,417.93 L1674.48,418.44 L1674.42,418.94 L1674.36,419.44 L1674.30,419.94 L1674.23,420.44 L1674.16,420.95 L1674.08,421.45 L1674.00,421.95 L1673.92,422.45 L1673.84,422.95 L1673.75,423.46 L1673.66,423.96 L1673.56,424.46 L1673.46,424.96 L1673.36,425.46 L1673.25,425.97 L1673.14,426.47 L1673.02,426.97 L1672.90,427.47 L1672.78,427.97 L1672.65,428.48 L1672.52,428.98 L1672.38,429.48 L1672.24,429.98 L1672.10,430.48 L1671.95,430.98 L1671.79,431.49 L1671.64,431.99 L1671.47,432.49 L1671.31,432.99 L1671.14,433.49 L1670.97,434.00 L1670.79,434.50 L1670.62,435.00 L1670.45,435.50 L1670.27,436.00 L1670.10,436.51 L1669.92,437.01 L1669.75,437.51 L1669.57,438.01 L1669.40,438.51 L1669.24,439.02 L1669.07,439.52 L1668.91,440.02 L1668.75,440.52 L1668.60,441.02 L1668.45,441.53 L1668.31,442.03 L1668.17,442.53 L1668.04,443.03 L1667.91,443.53 L1667.80,444.04 L1667.69,444.54 L1667.58,445.04 L1667.49,445.54 L1667.41,446.04 L1667.33,446.55 L1667.27,447.05 L1667.21,447.55 L1667.17,448.05 L1667.14,448.55 L1667.12,449.05 L1667.11,449.56 L1667.11,450.06 L1667.13,450.56 L1667.17,451.06 L1667.21,451.56 L1667.27,452.07 L1667.35,452.57 L1667.44,453.07 L1667.55,453.57 L1667.67,454.07 L1667.82,454.58 L1667.98,455.08 L1668.15,455.58 L1668.35,456.08 L1668.56,456.58 L1668.80,457.09 L1669.05,457.59 L1669.33,458.09 L1669.62,458.59 L1669.94,459.09 L1670.28,459.60 L1670.64,460.10 L1671.02,460.60 L1671.43,461.10 L1671.86,461.60 L1672.32,462.11 L1672.79,462.61 L1673.29,463.11 L1673.81,463.61 L1674.34,464.11 L1674.90,464.62 L1675.47,465.12 L1676.06,465.62 L1676.66,466.12 L1677.28,466.62 L1677.91,467.13 L1678.55,467.63 L1679.21,468.13 L1679.87,468.63 L1680.55,469.13 L1681.23,469.63 L1681.92,470.14 L1682.62,470.64 L1683.33,471.14 L1684.04,471.64 L1684.75,472.14 L1685.46,472.65 L1686.18,473.15 L1686.90,473.65 L1687.62,474.15 L1688.34,474.65 L1689.05,475.16 L1689.76,475.66 L1690.47,476.16 L1691.18,476.66 L1691.87,477.16 L1692.56,477.67 L1693.25,478.17 L1693.92,478.67 L1694.59,479.17 L1695.24,479.67 L1695.89,480.18 L1696.52,480.68 L1697.13,481.18 L1697.74,481.68 L1698.32,482.18 L1698.89,482.69 L1699.45,483.19 L1699.98,483.69 L1700.50,484.19 L1700.99,484.69 L1701.47,485.20 L1701.93,485.70 L1702.36,486.20 L1702.78,486.70 L1703.18,487.20 L1703.55,487.70 L1703.91,488.21 L1704.25,488.71 L1704.56,489.21 L1704.86,489.71 L1705.14,490.21 L1705.39,490.72 L1705.63,491.22 L1705.85,491.72 L1706.05,492.22 L1706.23,492.72 L1706.39,493.23 L1706.53,493.73 L1706.65,494.23 L1706.75,494.73 L1706.83,495.23 L1706.89,495.74 L1706.93,496.24 L1706.95,496.74 L1706.96,497.24 L1706.94,497.74 L1706.90,498.25 L1706.85,498.75 L1706.77,499.25 L1706.68,499.75 L1706.56,500.25 L1706.43,500.76 L1706.28,501.26 L1706.11,501.76 L1705.92,502.26 L1705.71,502.76 L1705.48,503.27 L1705.23,503.77 L1704.96,504.27 L1704.68,504.77 L1704.37,505.27 L1704.05,505.77 L1703.70,506.28 L1703.34,506.78 L1702.96,507.28 L1702.56,507.78 L1702.14,508.28 L1701.71,508.79 L1701.25,509.29 L1700.79,509.79 L1700.31,510.29 L1699.81,510.79 L1699.31,511.30 L1698.79,511.80 L1698.26,512.30 L1697.72,512.80 L1697.17,513.30 L1696.61,513.81 L1696.05,514.31 L1695.47,514.81 L1694.90,515.31 L1694.31,515.81 L1693.72,516.32 L1693.13,516.82 L1692.54,517.32 L1691.94,517.82 L1691.34,518.32 L1690.75,518.83 L1690.15,519.33 L1689.55,519.83 L1688.96,520.33 L1688.37,520.83 L1687.78,521.34 L1687.20,521.84 L1686.62,522.34 L1686.05,522.84 L1685.48,523.34 L1684.91,523.85 L1684.35,524.35 L1683.80,524.85 L1683.24,525.35 L1682.70,525.85 L1682.15,526.35 L1681.62,526.86 L1681.08,527.36 L1680.56,527.86 L1680.03,528.36 L1679.51,528.86 L1679.00,529.37 L1678.50,529.87 L1677.99,530.37 L1677.50,530.87 L1677.01,531.37 L1676.53,531.88 L1676.05,532.38 L1675.59,532.88 L1675.13,533.38 L1674.68,533.88 L1674.23,534.39 L1673.80,534.89 L1673.38,535.39 L1672.96,535.89 L1672.56,536.39 L1672.16,536.90 L1671.78,537.40 L1671.40,537.90 L1671.04,538.40 L1670.69,538.90 L1670.35,539.41 L1670.03,539.91 L1669.71,540.41 L1669.41,540.91 L1669.13,541.41 L1668.85,541.92 L1668.59,542.42 L1668.35,542.92 L1668.12,543.42 L1667.90,543.92 L1667.70,544.42 L1667.52,544.93 L1667.35,545.43 L1667.19,545.93 L1667.06,546.43 L1666.94,546.93 L1666.84,547.44 L1666.75,547.94 L1666.69,548.44 L1666.64,548.94 L1666.61,549.44 L1666.60,549.95 L1666.61,550.45 L1666.63,550.95 L1666.68,551.45 L1666.74,551.95 L1666.81,552.46 L1666.90,552.96 L1667.01,553.46 L1667.13,553.96 L1667.26,554.46 L1667.41,554.97 L1667.58,555.47 L1667.75,555.97 L1667.94,556.47 L1668.14,556.97 L1668.35,557.48 L1668.57,557.98 L1668.80,558.48 L1669.05,558.98 L1669.30,559.48 L1669.56,559.99 L1669.83,560.49 L1670.11,560.99 L1670.39,561.49 L1670.69,561.99 L1670.99,562.49 L1671.29,563.00 L1671.61,563.50 L1671.93,564.00 L1672.25,564.50 L1672.58,565.00 L1672.91,565.51 L1673.24,566.01 L1673.58,566.51 L1673.92,567.01 L1674.26,567.51 L1674.61,568.02 L1674.95,568.52 L1675.30,569.02 L1675.65,569.52 L1675.99,570.02 L1676.34,570.53 L1676.68,571.03 L1677.03,571.53 L1677.37,572.03 L1677.71,572.53 L1678.04,573.04 L1678.38,573.54 L1678.71,574.04 L1679.03,574.54 L1679.35,575.04 L1679.66,575.55 L1679.97,576.05 L1680.27,576.55 L1680.57,577.05 L1680.86,577.55 L1681.14,578.06 L1681.41,578.56 L1681.67,579.06 L1681.93,579.56 L1682.17,580.06 L1682.41,580.56 L1682.63,581.07 L1682.85,581.57 L1683.05,582.07 L1683.24,582.57 L1683.42,583.07 L1683.58,583.58 L1683.74,584.08 L1683.88,584.58 L1684.00,585.08 L1684.11,585.58 L1684.21,586.09 L1684.28,586.59 L1684.35,587.09 L1684.39,587.59 L1684.42,588.09 L1684.44,588.60 L1684.43,589.10 L1684.41,589.60 L1644.59,589.60 L1644.57,589.10 L1644.56,588.60 L1644.58,588.09 L1644.61,587.59 L1644.65,587.09 L1644.72,586.59 L1644.79,586.09 L1644.89,585.58 L1645.00,585.08 L1645.12,584.58 L1645.26,584.08 L1645.42,583.58 L1645.58,583.07 L1645.76,582.57 L1645.95,582.07 L1646.15,581.57 L1646.37,581.07 L1646.59,580.56 L1646.83,580.06 L1647.07,579.56 L1647.33,579.06 L1647.59,578.56 L1647.86,578.06 L1648.14,577.55 L1648.43,577.05 L1648.73,576.55 L1649.03,576.05 L1649.34,575.55 L1649.65,575.04 L1649.97,574.54 L1650.29,574.04 L1650.62,573.54 L1650.96,573.04 L1651.29,572.53 L1651.63,572.03 L1651.97,571.53 L1652.32,571.03 L1652.66,570.53 L1653.01,570.02 L1653.35,569.52 L1653.70,569.02 L1654.05,568.52 L1654.39,568.02 L1654.74,567.51 L1655.08,567.01 L1655.42,566.51 L1655.76,566.01 L1656.09,565.51 L1656.42,565.00 L1656.75,564.50 L1657.07,564.00 L1657.39,563.50 L1657.71,563.00 L1658.01,562.49 L1658.31,561.99 L1658.61,561.49 L1658.89,560.99 L1659.17,560.49 L1659.44,559.99 L1659.70,559.48 L1659.95,558.98 L1660.20,558.48 L1660.43,557.98 L1660.65,557.48 L1660.86,556.97 L1661.06,556.47 L1661.25,555.97 L1661.42,555.47 L1661.59,554.97 L1661.74,554.46 L1661.87,553.96 L1661.99,553.46 L1662.10,552.96 L1662.19,552.46 L1662.26,551.95 L1662.32,551.45 L1662.37,550.95 L1662.39,550.45 L1662.40,549.95 L1662.39,549.44 L1662.36,548.94 L1662.31,548.44 L1662.25,547.94 L1662.16,547.44 L1662.06,546.93 L1661.94,546.43 L1661.81,545.93 L1661.65,545.43 L1661.48,544.93 L1661.30,544.42 L1661.10,543.92 L1660.88,543.42 L1660.65,542.92 L1660.41,542.42 L1660.15,541.92 L1659.87,541.41 L1659.59,540.91 L1659.29,540.41 L1658.97,539.91 L1658.65,539.41 L1658.31,538.90 L1657.96,538.40 L1657.60,537.90 L1657.22,537.40 L1656.84,536.90 L1656.44,536.39 L1656.04,535.89 L1655.62,535.39 L1655.20,534.89 L1654.77,534.39 L1654.32,533.88 L1653.87,533.38 L1653.41,532.88 L1652.95,532.38 L1652.47,531.88 L1651.99,531.37 L1651.50,530.87 L1651.01,530.37 L1650.50,529.87 L1650.00,529.37 L1649.49,528.86 L1648.97,528.36 L1648.44,527.86 L1647.92,527.36 L1647.38,526.86 L1646.85,526.35 L1646.30,525.85 L1645.76,525.35 L1645.20,524.85 L1644.65,524.35 L1644.09,523.85 L1643.52,523.34 L1642.95,522.84 L1642.38,522.34 L1641.80,521.84 L1641.22,521.34 L1640.63,520.83 L1640.04,520.33 L1639.45,519.83 L1638.85,519.33 L1638.25,518.83 L1637.66,518.32 L1637.06,517.82 L1636.46,517.32 L1635.87,516.82 L1635.28,516.32 L1634.69,515.81 L1634.10,515.31 L1633.53,514.81 L1632.95,514.31 L1632.39,513.81 L1631.83,513.30 L1631.28,512.80 L1630.74,512.30 L1630.21,511.80 L1629.69,511.30 L1629.19,510.79 L1628.69,510.29 L1628.21,509.79 L1627.75,509.29 L1627.29,508.79 L1626.86,508.28 L1626.44,507.78 L1626.04,507.28 L1625.66,506.78 L1625.30,506.28 L1624.95,505.77 L1624.63,505.27 L1624.32,504.77 L1624.04,504.27 L1623.77,503.77 L1623.52,503.27 L1623.29,502.76 L1623.08,502.26 L1622.89,501.76 L1622.72,501.26 L1622.57,500.76 L1622.44,500.25 L1622.32,499.75 L1622.23,499.25 L1622.15,498.75 L1622.10,498.25 L1622.06,497.74 L1622.04,497.24 L1622.05,496.74 L1622.07,496.24 L1622.11,495.74 L1622.17,495.23 L1622.25,494.73 L1622.35,494.23 L1622.47,493.73 L1622.61,493.23 L1622.77,492.72 L1622.95,492.22 L1623.15,491.72 L1623.37,491.22 L1623.61,490.72 L1623.86,490.21 L1624.14,489.71 L1624.44,489.21 L1624.75,488.71 L1625.09,488.21 L1625.45,487.70 L1625.82,487.20 L1626.22,486.70 L1626.64,486.20 L1627.07,485.70 L1627.53,485.20 L1628.01,484.69 L1628.50,484.19 L1629.02,483.69 L1629.55,483.19 L1630.11,482.69 L1630.68,482.18 L1631.26,481.68 L1631.87,481.18 L1632.48,480.68 L1633.11,480.18 L1633.76,479.67 L1634.41,479.17 L1635.08,478.67 L1635.75,478.17 L1636.44,477.67 L1637.13,477.16 L1637.82,476.66 L1638.53,476.16 L1639.24,475.66 L1639.95,475.16 L1640.66,474.65 L1641.38,474.15 L1642.10,473.65 L1642.82,473.15 L1643.54,472.65 L1644.25,472.14 L1644.96,471.64 L1645.67,471.14 L1646.38,470.64 L1647.08,470.14 L1647.77,469.63 L1648.45,469.13 L1649.13,468.63 L1649.79,468.13 L1650.45,467.63 L1651.09,467.13 L1651.72,466.62 L1652.34,466.12 L1652.94,465.62 L1653.53,465.12 L1654.10,464.62 L1654.66,464.11 L1655.19,463.61 L1655.71,463.11 L1656.21,462.61 L1656.68,462.11 L1657.14,461.60 L1657.57,461.10 L1657.98,460.60 L1658.36,460.10 L1658.72,459.60 L1659.06,459.09 L1659.38,458.59 L1659.67,458.09 L1659.95,457.59 L1660.20,457.09 L1660.44,456.58 L1660.65,456.08 L1660.85,455.58 L1661.02,455.08 L1661.18,454.58 L1661.33,454.07 L1661.45,453.57 L1661.56,453.07 L1661.65,452.57 L1661.73,452.07 L1661.79,451.56 L1661.83,451.06 L1661.87,450.56 L1661.89,450.06 L1661.89,449.56 L1661.88,449.05 L1661.86,448.55 L1661.83,448.05 L1661.79,447.55 L1661.73,447.05 L1661.67,446.55 L1661.59,446.04 L1661.51,445.54 L1661.42,445.04 L1661.31,444.54 L1661.20,444.04 L1661.09,443.53 L1660.96,443.03 L1660.83,442.53 L1660.69,442.03 L1660.55,441.53 L1660.40,441.02 L1660.25,440.52 L1660.09,440.02 L1659.93,439.52 L1659.76,439.02 L1659.60,438.51 L1659.43,438.01 L1659.25,437.51 L1659.08,437.01 L1658.90,436.51 L1658.73,436.00 L1658.55,435.50 L1658.38,435.00 L1658.21,434.50 L1658.03,434.00 L1657.86,433.49 L1657.69,432.99 L1657.53,432.49 L1657.36,431.99 L1657.21,431.49 L1657.05,430.98 L1656.90,430.48 L1656.76,429.98 L1656.62,429.48 L1656.48,428.98 L1656.35,428.48 L1656.22,427.97 L1656.10,427.47 L1655.98,426.97 L1655.86,426.47 L1655.75,425.97 L1655.64,425.46 L1655.54,424.96 L1655.44,424.46 L1655.34,423.96 L1655.25,423.46 L1655.16,422.95 L1655.08,422.45 L1655.00,421.95 L1654.92,421.45 L1654.84,420.95 L1654.77,420.44 L1654.70,419.94 L1654.64,419.44 L1654.58,418.94 L1654.52,418.44 L1654.46,417.93 L1654.41,417.43 L1654.36,416.93 L1654.31,416.43 L1654.26,415.93 L1654.22,415.42 L1654.18,414.92 L1654.14,414.42 L1654.11,413.92 L1654.07,413.42 L1654.04,412.91 L1654.01,412.41 L1653.99,411.91 L1653.96,411.41 L1653.94,410.91 L1653.92,410.41 L1653.90,409.90 L1653.88,409.40 L1653.87,408.90 L1653.85,408.40 L1653.84,407.90 L1653.83,407.39 L1653.82,406.89 L1653.81,406.39 L1653.80,405.89 L1653.80,405.39 L1653.79,404.88 L1653.79,404.38 L1653.78,403.88 L1653.78,403.38 L1653.78,402.88 L1653.78,402.37 L1653.78,401.87 L1653.78,401.37 L1653.78,400.87 L1653.79,400.37 L1653.79,399.86 L1653.79,399.36 L1653.79,398.86 L1653.80,398.36 L1653.80,397.86 L1653.80,397.35 L1653.81,396.85 L1653.81,396.35 L1653.81,395.85 L1653.82,395.35 L1653.82,394.84 L1653.82,394.34 L1653.82,393.84 L1653.82,393.34 L1653.83,392.84 L1653.83,392.34 L1653.82,391.83 L1653.82,391.33 L1653.82,390.83 L1653.82,390.33 L1653.81,389.83 L1653.81,389.32 L1653.80,388.82 L1653.80,388.32 L1653.79,387.82 L1653.78,387.32 L1653.77,386.81 L1653.75,386.31 L1653.74,385.81 L1653.72,385.31 L1653.71,384.81 L1653.69,384.30 L1653.67,383.80 L1653.64,383.30 Z" fill="#FFBF7F" stroke="#222" stroke-width="2.2" stroke-linejoin="round"/>
<path d="M1612.20,459.3 H1716.80 M1612.20,499.9 H1716.80 M1664.50,459.3 V499.9" stroke="#000" stroke-width="2.1" stroke-linecap="round" fill="none"/>
<circle cx="1664.50" cy="382.9" r="5.0" fill="#000"/>
<circle cx="1664.50" cy="418.7" r="5.0" fill="#000"/>
<circle cx="1664.50" cy="482" r="5.0" fill="#000"/>
<circle cx="1664.50" cy="489.6" r="5.0" fill="#000"/>
<circle cx="1664.50" cy="494.3" r="5.0" fill="#000"/>
<circle cx="1664.50" cy="505.6" r="5.0" fill="#000"/>
<circle cx="1664.50" cy="523.6" r="5.0" fill="#000"/>
<circle cx="1664.50" cy="584.4" r="5.0" fill="#000"/>
<circle cx="1664.50" cy="589.2" r="5.0" fill="#000"/>
<path d="M1887.14,268.60 L1887.15,269.10 L1887.16,269.60 L1887.17,270.10 L1887.18,270.61 L1887.19,271.11 L1887.20,271.61 L1887.20,272.11 L1887.21,272.61 L1887.22,273.11 L1887.22,273.61 L1887.23,274.11 L1887.23,274.62 L1887.24,275.12 L1887.24,275.62 L1887.25,276.12 L1887.25,276.62 L1887.25,277.12 L1887.26,277.62 L1887.26,278.13 L1887.26,278.63 L1887.26,279.13 L1887.26,279.63 L1887.26,280.13 L1887.26,280.63 L1887.26,281.13 L1887.26,281.63 L1887.26,282.14 L1887.26,282.64 L1887.26,283.14 L1887.26,283.64 L1887.26,284.14 L1887.26,284.64 L1887.25,285.14 L1887.25,285.64 L1887.25,286.15 L1887.24,286.65 L1887.24,287.15 L1887.24,287.65 L1887.23,288.15 L1887.23,288.65 L1887.23,289.15 L1887.22,289.66 L1887.22,290.16 L1887.21,290.66 L1887.21,291.16 L1887.20,291.66 L1887.19,292.16 L1887.19,292.66 L1887.18,293.16 L1887.18,293.67 L1887.17,294.17 L1887.17,294.67 L1887.16,295.17 L1887.15,295.67 L1887.15,296.17 L1887.14,296.67 L1887.13,297.18 L1887.13,297.68 L1887.12,298.18 L1887.11,298.68 L1887.10,299.18 L1887.10,299.68 L1887.09,300.18 L1887.08,300.68 L1887.08,301.19 L1887.07,301.69 L1887.06,302.19 L1887.05,302.69 L1887.05,303.19 L1887.04,303.69 L1887.03,304.19 L1887.03,304.69 L1887.02,305.20 L1887.01,305.70 L1887.00,306.20 L1887.00,306.70 L1886.99,307.20 L1886.98,307.70 L1886.98,308.20 L1886.97,308.71 L1886.96,309.21 L1886.96,309.71 L1886.95,310.21 L1886.95,310.71 L1886.94,311.21 L1886.93,311.71 L1886.93,312.21 L1886.92,312.72 L1886.92,313.22 L1886.91,313.72 L1886.91,314.22 L1886.90,314.72 L1886.90,315.22 L1886.89,315.72 L1886.89,316.23 L1886.89,316.73 L1886.88,317.23 L1886.88,317.73 L1886.88,318.23 L1886.87,318.73 L1886.87,319.23 L1886.87,319.73 L1886.87,320.24 L1886.86,320.74 L1886.86,321.24 L1886.86,321.74 L1886.86,322.24 L1886.86,322.74 L1886.86,323.24 L1886.86,323.75 L1886.86,324.25 L1886.86,324.75 L1886.86,325.25 L1886.86,325.75 L1886.87,326.25 L1886.87,326.75 L1886.87,327.25 L1886.87,327.76 L1886.88,328.26 L1886.88,328.76 L1886.88,329.26 L1886.89,329.76 L1886.89,330.26 L1886.90,330.76 L1886.91,331.26 L1886.91,331.77 L1886.92,332.27 L1886.93,332.77 L1886.94,333.27 L1886.94,333.77 L1886.95,334.27 L1886.96,334.77 L1886.97,335.28 L1886.98,335.78 L1886.99,336.28 L1887.00,336.78 L1887.02,337.28 L1887.03,337.78 L1887.04,338.28 L1887.05,338.78 L1887.07,339.29 L1887.08,339.79 L1887.09,340.29 L1887.11,340.79 L1887.12,341.29 L1887.14,341.79 L1887.16,342.29 L1887.17,342.80 L1887.19,343.30 L1887.21,343.80 L1887.23,344.30 L1887.24,344.80 L1887.26,345.30 L1887.28,345.80 L1887.30,346.30 L1887.32,346.81 L1887.34,347.31 L1887.36,347.81 L1887.38,348.31 L1887.41,348.81 L1887.43,349.31 L1887.45,349.81 L1887.48,350.31 L1887.50,350.82 L1887.52,351.32 L1887.55,351.82 L1887.57,352.32 L1887.60,352.82 L1887.62,353.32 L1887.65,353.82 L1887.68,354.33 L1887.70,354.83 L1887.73,355.33 L1887.76,355.83 L1887.79,356.33 L1887.82,356.83 L1887.85,357.33 L1887.88,357.83 L1887.91,358.34 L1887.94,358.84 L1887.97,359.34 L1888.00,359.84 L1888.03,360.34 L1888.06,360.84 L1888.10,361.34 L1888.13,361.85 L1888.16,362.35 L1888.20,362.85 L1888.23,363.35 L1888.27,363.85 L1888.30,364.35 L1888.34,364.85 L1888.38,365.35 L1888.41,365.86 L1888.45,366.36 L1888.49,366.86 L1888.52,367.36 L1888.56,367.86 L1888.60,368.36 L1888.64,368.86 L1888.68,369.37 L1888.72,369.87 L1888.76,370.37 L1888.80,370.87 L1888.84,371.37 L1888.89,371.87 L1888.93,372.37 L1888.97,372.87 L1889.01,373.38 L1889.06,373.88 L1889.10,374.38 L1889.14,374.88 L1889.19,375.38 L1889.23,375.88 L1889.28,376.38 L1889.33,376.88 L1889.37,377.39 L1889.42,377.89 L1889.47,378.39 L1889.51,378.89 L1889.56,379.39 L1889.61,379.89 L1889.66,380.39 L1889.71,380.90 L1889.76,381.40 L1889.81,381.90 L1889.86,382.40 L1889.91,382.90 L1889.96,383.40 L1890.01,383.90 L1890.07,384.40 L1890.12,384.91 L1890.17,385.41 L1890.22,385.91 L1890.28,386.41 L1890.33,386.91 L1890.39,387.41 L1890.44,387.91 L1890.50,388.42 L1890.55,388.92 L1890.61,389.42 L1890.66,389.92 L1890.72,390.42 L1890.78,390.92 L1890.83,391.42 L1890.89,391.92 L1890.95,392.43 L1891.01,392.93 L1891.06,393.43 L1891.12,393.93 L1891.18,394.43 L1891.24,394.93 L1891.30,395.43 L1891.36,395.93 L1891.42,396.44 L1891.48,396.94 L1891.54,397.44 L1891.60,397.94 L1891.65,398.44 L1891.71,398.94 L1891.77,399.44 L1891.83,399.95 L1891.89,400.45 L1891.95,400.95 L1892.01,401.45 L1892.07,401.95 L1892.13,402.45 L1892.19,402.95 L1892.25,403.45 L1892.31,403.96 L1892.38,404.46 L1892.44,404.96 L1892.50,405.46 L1892.56,405.96 L1892.62,406.46 L1892.67,406.96 L1892.73,407.47 L1892.79,407.97 L1892.85,408.47 L1892.91,408.97 L1892.97,409.47 L1893.03,409.97 L1893.09,410.47 L1893.15,410.97 L1893.21,411.48 L1893.27,411.98 L1893.32,412.48 L1893.38,412.98 L1893.44,413.48 L1893.50,413.98 L1893.56,414.48 L1893.61,414.99 L1893.67,415.49 L1893.73,415.99 L1893.78,416.49 L1893.84,416.99 L1893.89,417.49 L1893.95,417.99 L1894.00,418.49 L1894.06,419.00 L1894.11,419.50 L1894.17,420.00 L1894.22,420.50 L1894.27,421.00 L1894.33,421.50 L1894.38,422.00 L1894.43,422.50 L1894.48,423.01 L1894.53,423.51 L1894.58,424.01 L1894.63,424.51 L1894.68,425.01 L1894.73,425.51 L1894.78,426.01 L1894.83,426.52 L1894.88,427.02 L1894.92,427.52 L1894.97,428.02 L1895.01,428.52 L1895.06,429.02 L1895.10,429.52 L1895.15,430.02 L1895.19,430.53 L1895.23,431.03 L1895.28,431.53 L1895.32,432.03 L1895.36,432.53 L1895.40,433.03 L1895.44,433.53 L1895.48,434.04 L1895.52,434.54 L1895.55,435.04 L1895.59,435.54 L1895.63,436.04 L1895.66,436.54 L1895.70,437.04 L1895.73,437.54 L1895.76,438.05 L1895.80,438.55 L1895.83,439.05 L1895.86,439.55 L1895.89,440.05 L1895.92,440.55 L1895.94,441.05 L1895.97,441.55 L1896.00,442.06 L1896.02,442.56 L1896.05,443.06 L1896.07,443.56 L1896.09,444.06 L1896.12,444.56 L1896.14,445.06 L1896.16,445.57 L1896.18,446.07 L1896.19,446.57 L1896.21,447.07 L1896.23,447.57 L1896.24,448.07 L1896.26,448.57 L1896.27,449.07 L1896.28,449.58 L1896.29,450.08 L1896.30,450.58 L1896.31,451.08 L1896.32,451.58 L1896.32,452.08 L1896.33,452.58 L1896.33,453.09 L1896.34,453.59 L1896.34,454.09 L1896.34,454.59 L1896.34,455.09 L1896.34,455.59 L1896.34,456.09 L1896.33,456.59 L1896.33,457.10 L1896.32,457.60 L1896.31,458.10 L1896.31,458.60 L1896.30,459.10 L1896.28,459.60 L1896.27,460.10 L1896.26,460.61 L1896.24,461.11 L1896.23,461.61 L1896.21,462.11 L1896.19,462.61 L1896.17,463.11 L1896.15,463.61 L1896.13,464.11 L1896.10,464.62 L1896.07,465.12 L1896.05,465.62 L1896.02,466.12 L1895.99,466.62 L1895.96,467.12 L1895.92,467.62 L1895.89,468.12 L1895.85,468.63 L1895.82,469.13 L1895.78,469.63 L1895.74,470.13 L1895.70,470.63 L1895.65,471.13 L1895.61,471.63 L1895.56,472.14 L1895.51,472.64 L1895.46,473.14 L1895.41,473.64 L1895.36,474.14 L1895.31,474.64 L1895.25,475.14 L1895.19,475.64 L1895.13,476.15 L1895.07,476.65 L1895.01,477.15 L1894.94,477.65 L1894.88,478.15 L1894.81,478.65 L1894.74,479.15 L1894.67,479.66 L1894.60,480.16 L1894.52,480.66 L1894.45,481.16 L1894.37,481.66 L1894.29,482.16 L1894.21,482.66 L1894.13,483.16 L1894.04,483.67 L1893.95,484.17 L1893.86,484.67 L1893.77,485.17 L1893.68,485.67 L1893.59,486.17 L1893.49,486.67 L1893.39,487.17 L1893.29,487.68 L1893.19,488.18 L1893.09,488.68 L1892.98,489.18 L1892.87,489.68 L1892.76,490.18 L1892.65,490.68 L1892.54,491.19 L1892.42,491.69 L1892.31,492.19 L1892.19,492.69 L1892.06,493.19 L1891.94,493.69 L1891.81,494.19 L1891.69,494.69 L1891.56,495.20 L1891.43,495.70 L1891.29,496.20 L1891.16,496.70 L1865.04,496.70 L1864.91,496.20 L1864.77,495.70 L1864.64,495.20 L1864.51,494.69 L1864.39,494.19 L1864.26,493.69 L1864.14,493.19 L1864.01,492.69 L1863.89,492.19 L1863.78,491.69 L1863.66,491.19 L1863.55,490.68 L1863.44,490.18 L1863.33,489.68 L1863.22,489.18 L1863.11,488.68 L1863.01,488.18 L1862.91,487.68 L1862.81,487.17 L1862.71,486.67 L1862.61,486.17 L1862.52,485.67 L1862.43,485.17 L1862.34,484.67 L1862.25,484.17 L1862.16,483.67 L1862.07,483.16 L1861.99,482.66 L1861.91,482.16 L1861.83,481.66 L1861.75,481.16 L1861.68,480.66 L1861.60,480.16 L1861.53,479.66 L1861.46,479.15 L1861.39,478.65 L1861.32,478.15 L1861.26,477.65 L1861.19,477.15 L1861.13,476.65 L1861.07,476.15 L1861.01,475.64 L1860.95,475.14 L1860.89,474.64 L1860.84,474.14 L1860.79,473.64 L1860.74,473.14 L1860.69,472.64 L1860.64,472.14 L1860.59,471.63 L1860.55,471.13 L1860.50,470.63 L1860.46,470.13 L1860.42,469.63 L1860.38,469.13 L1860.35,468.63 L1860.31,468.12 L1860.28,467.62 L1860.24,467.12 L1860.21,466.62 L1860.18,466.12 L1860.15,465.62 L1860.13,465.12 L1860.10,464.62 L1860.07,464.11 L1860.05,463.61 L1860.03,463.11 L1860.01,462.61 L1859.99,462.11 L1859.97,461.61 L1859.96,461.11 L1859.94,460.61 L1859.93,460.10 L1859.92,459.60 L1859.90,459.10 L1859.89,458.60 L1859.89,458.10 L1859.88,457.60 L1859.87,457.10 L1859.87,456.59 L1859.86,456.09 L1859.86,455.59 L1859.86,455.09 L1859.86,454.59 L1859.86,454.09 L1859.86,453.59 L1859.87,453.09 L1859.87,452.58 L1859.88,452.08 L1859.88,451.58 L1859.89,451.08 L1859.90,450.58 L1859.91,450.08 L1859.92,449.58 L1859.93,449.07 L1859.94,448.57 L1859.96,448.07 L1859.97,447.57 L1859.99,447.07 L1860.01,446.57 L1860.02,446.07 L1860.04,445.57 L1860.06,445.06 L1860.08,444.56 L1860.11,444.06 L1860.13,443.56 L1860.15,443.06 L1860.18,442.56 L1860.20,442.06 L1860.23,441.55 L1860.26,441.05 L1860.28,440.55 L1860.31,440.05 L1860.34,439.55 L1860.37,439.05 L1860.40,438.55 L1860.44,438.05 L1860.47,437.54 L1860.50,437.04 L1860.54,436.54 L1860.57,436.04 L1860.61,435.54 L1860.65,435.04 L1860.68,434.54 L1860.72,434.04 L1860.76,433.53 L1860.80,433.03 L1860.84,432.53 L1860.88,432.03 L1860.92,431.53 L1860.97,431.03 L1861.01,430.53 L1861.05,430.02 L1861.10,429.52 L1861.14,429.02 L1861.19,428.52 L1861.23,428.02 L1861.28,427.52 L1861.32,427.02 L1861.37,426.52 L1861.42,426.01 L1861.47,425.51 L1861.52,425.01 L1861.57,424.51 L1861.62,424.01 L1861.67,423.51 L1861.72,423.01 L1861.77,422.50 L1861.82,422.00 L1861.87,421.50 L1861.93,421.00 L1861.98,420.50 L1862.03,420.00 L1862.09,419.50 L1862.14,419.00 L1862.20,418.49 L1862.25,417.99 L1862.31,417.49 L1862.36,416.99 L1862.42,416.49 L1862.47,415.99 L1862.53,415.49 L1862.59,414.99 L1862.64,414.48 L1862.70,413.98 L1862.76,413.48 L1862.82,412.98 L1862.88,412.48 L1862.93,411.98 L1862.99,411.48 L1863.05,410.97 L1863.11,410.47 L1863.17,409.97 L1863.23,409.47 L1863.29,408.97 L1863.35,408.47 L1863.41,407.97 L1863.47,407.47 L1863.53,406.96 L1863.58,406.46 L1863.64,405.96 L1863.70,405.46 L1863.76,404.96 L1863.82,404.46 L1863.89,403.96 L1863.95,403.45 L1864.01,402.95 L1864.07,402.45 L1864.13,401.95 L1864.19,401.45 L1864.25,400.95 L1864.31,400.45 L1864.37,399.95 L1864.43,399.44 L1864.49,398.94 L1864.55,398.44 L1864.60,397.94 L1864.66,397.44 L1864.72,396.94 L1864.78,396.44 L1864.84,395.93 L1864.90,395.43 L1864.96,394.93 L1865.02,394.43 L1865.08,393.93 L1865.14,393.43 L1865.19,392.93 L1865.25,392.43 L1865.31,391.92 L1865.37,391.42 L1865.42,390.92 L1865.48,390.42 L1865.54,389.92 L1865.59,389.42 L1865.65,388.92 L1865.70,388.42 L1865.76,387.91 L1865.81,387.41 L1865.87,386.91 L1865.92,386.41 L1865.98,385.91 L1866.03,385.41 L1866.08,384.91 L1866.13,384.40 L1866.19,383.90 L1866.24,383.40 L1866.29,382.90 L1866.34,382.40 L1866.39,381.90 L1866.44,381.40 L1866.49,380.90 L1866.54,380.39 L1866.59,379.89 L1866.64,379.39 L1866.69,378.89 L1866.73,378.39 L1866.78,377.89 L1866.83,377.39 L1866.87,376.88 L1866.92,376.38 L1866.97,375.88 L1867.01,375.38 L1867.06,374.88 L1867.10,374.38 L1867.14,373.88 L1867.19,373.38 L1867.23,372.87 L1867.27,372.37 L1867.31,371.87 L1867.36,371.37 L1867.40,370.87 L1867.44,370.37 L1867.48,369.87 L1867.52,369.37 L1867.56,368.86 L1867.60,368.36 L1867.64,367.86 L1867.68,367.36 L1867.71,366.86 L1867.75,366.36 L1867.79,365.86 L1867.82,365.35 L1867.86,364.85 L1867.90,364.35 L1867.93,363.85 L1867.97,363.35 L1868.00,362.85 L1868.04,362.35 L1868.07,361.85 L1868.10,361.34 L1868.14,360.84 L1868.17,360.34 L1868.20,359.84 L1868.23,359.34 L1868.26,358.84 L1868.29,358.34 L1868.32,357.83 L1868.35,357.33 L1868.38,356.83 L1868.41,356.33 L1868.44,355.83 L1868.47,355.33 L1868.50,354.83 L1868.52,354.33 L1868.55,353.82 L1868.58,353.32 L1868.60,352.82 L1868.63,352.32 L1868.65,351.82 L1868.68,351.32 L1868.70,350.82 L1868.72,350.31 L1868.75,349.81 L1868.77,349.31 L1868.79,348.81 L1868.82,348.31 L1868.84,347.81 L1868.86,347.31 L1868.88,346.81 L1868.90,346.30 L1868.92,345.80 L1868.94,345.30 L1868.96,344.80 L1868.97,344.30 L1868.99,343.80 L1869.01,343.30 L1869.03,342.80 L1869.04,342.29 L1869.06,341.79 L1869.08,341.29 L1869.09,340.79 L1869.11,340.29 L1869.12,339.79 L1869.13,339.29 L1869.15,338.78 L1869.16,338.28 L1869.17,337.78 L1869.18,337.28 L1869.20,336.78 L1869.21,336.28 L1869.22,335.78 L1869.23,335.28 L1869.24,334.77 L1869.25,334.27 L1869.26,333.77 L1869.26,333.27 L1869.27,332.77 L1869.28,332.27 L1869.29,331.77 L1869.29,331.26 L1869.30,330.76 L1869.31,330.26 L1869.31,329.76 L1869.32,329.26 L1869.32,328.76 L1869.32,328.26 L1869.33,327.76 L1869.33,327.25 L1869.33,326.75 L1869.33,326.25 L1869.34,325.75 L1869.34,325.25 L1869.34,324.75 L1869.34,324.25 L1869.34,323.75 L1869.34,323.24 L1869.34,322.74 L1869.34,322.24 L1869.34,321.74 L1869.34,321.24 L1869.34,320.74 L1869.33,320.24 L1869.33,319.73 L1869.33,319.23 L1869.33,318.73 L1869.32,318.23 L1869.32,317.73 L1869.32,317.23 L1869.31,316.73 L1869.31,316.23 L1869.31,315.72 L1869.30,315.22 L1869.30,314.72 L1869.29,314.22 L1869.29,313.72 L1869.28,313.22 L1869.28,312.72 L1869.27,312.21 L1869.27,311.71 L1869.26,311.21 L1869.25,310.71 L1869.25,310.21 L1869.24,309.71 L1869.24,309.21 L1869.23,308.71 L1869.22,308.20 L1869.22,307.70 L1869.21,307.20 L1869.20,306.70 L1869.20,306.20 L1869.19,305.70 L1869.18,305.20 L1869.17,304.69 L1869.17,304.19 L1869.16,303.69 L1869.15,303.19 L1869.15,302.69 L1869.14,302.19 L1869.13,301.69 L1869.12,301.19 L1869.12,300.68 L1869.11,300.18 L1869.10,299.68 L1869.10,299.18 L1869.09,298.68 L1869.08,298.18 L1869.07,297.68 L1869.07,297.18 L1869.06,296.67 L1869.05,296.17 L1869.05,295.67 L1869.04,295.17 L1869.03,294.67 L1869.03,294.17 L1869.02,293.67 L1869.02,293.16 L1869.01,292.66 L1869.01,292.16 L1869.00,291.66 L1868.99,291.16 L1868.99,290.66 L1868.98,290.16 L1868.98,289.66 L1868.97,289.15 L1868.97,288.65 L1868.97,288.15 L1868.96,287.65 L1868.96,287.15 L1868.96,286.65 L1868.95,286.15 L1868.95,285.64 L1868.95,285.14 L1868.94,284.64 L1868.94,284.14 L1868.94,283.64 L1868.94,283.14 L1868.94,282.64 L1868.94,282.14 L1868.94,281.63 L1868.94,281.13 L1868.94,280.63 L1868.94,280.13 L1868.94,279.63 L1868.94,279.13 L1868.94,278.63 L1868.94,278.13 L1868.94,277.62 L1868.95,277.12 L1868.95,276.62 L1868.95,276.12 L1868.96,275.62 L1868.96,275.12 L1868.97,274.62 L1868.97,274.11 L1868.98,273.61 L1868.98,273.11 L1868.99,272.61 L1869.00,272.11 L1869.00,271.61 L1869.01,271.11 L1869.02,270.61 L1869.03,270.10 L1869.04,269.60 L1869.05,269.10 L1869.06,268.60 Z" fill="#F18C8D" stroke="#222" stroke-width="2.2" stroke-linejoin="round"/>
<path d="M1825.80,357.8 H1930.40 M1825.80,408.7 H1930.40 M1878.10,357.8 V408.7" stroke="#000" stroke-width="2.1" stroke-linecap="round" fill="none"/>
<circle cx="1878.10" cy="268.2" r="5.0" fill="#000"/>
<circle cx="1878.10" cy="303.7" r="5.0" fill="#000"/>
<circle cx="1878.10" cy="308.3" r="5.0" fill="#000"/>
<circle cx="1878.10" cy="381.2" r="5.0" fill="#000"/>
<circle cx="1878.10" cy="433.2" r="5.0" fill="#000"/>
<circle cx="1878.10" cy="447.3" r="5.0" fill="#000"/>
<circle cx="1878.10" cy="454.8" r="5.0" fill="#000"/>
<circle cx="1878.10" cy="470" r="5.0" fill="#000"/>
<circle cx="1878.10" cy="497.2" r="5.0" fill="#000"/>
<path d="M238.5,282 V269.5 H446.5 V282" stroke="#000" stroke-width="1.4" stroke-linecap="round" stroke-linejoin="round" fill="none"/><text transform="translate(342.50,267.00) scale(1,1.03)" text-anchor="middle" class="bf">BF10 = 15734.05</text>
<path d="M238.5,252 V238.5 H654.5 V252" stroke="#000" stroke-width="1.4" stroke-linecap="round" stroke-linejoin="round" fill="none"/><text transform="translate(446.25,236.25) scale(1,1.03)" text-anchor="middle" class="bf">BF10 = 21.55</text>
<path d="M238.5,221.25 V208.5 H861.5 V221.25" stroke="#000" stroke-width="1.4" stroke-linecap="round" stroke-linejoin="round" fill="none"/><text transform="translate(550.00,205.50) scale(1,1.03)" text-anchor="middle" class="bf">BF10 = 8542.42</text>
<path d="M446.5,190.5 V177.5 H654.5 V190.5" stroke="#000" stroke-width="1.4" stroke-linecap="round" stroke-linejoin="round" fill="none"/><text transform="translate(550.00,175.50) scale(1,1.03)" text-anchor="middle" class="bf">BF10 = 5.74</text>
<path d="M446.5,160.5 V146.5 H861.5 V160.5" stroke="#000" stroke-width="1.4" stroke-linecap="round" stroke-linejoin="round" fill="none"/><text transform="translate(652.50,145.50) scale(1,1.03)" text-anchor="middle" class="bf">BF10 = 0.51</text>
<path d="M654.5,121.25 V108.5 H861.5 V121.25" stroke="#000" stroke-width="1.4" stroke-linecap="round" stroke-linejoin="round" fill="none"/><text transform="translate(758.00,106.25) scale(1,1.03)" text-anchor="middle" class="bf">BF10 = 11.36</text>
<path d="M1237.5,276.75 V263.5 H1451.5 V276.75" stroke="#000" stroke-width="1.4" stroke-linecap="round" stroke-linejoin="round" fill="none"/><text transform="translate(1344.75,260.50) scale(1,1.03)" text-anchor="middle" class="bf">BF10 = 337.55</text>
<path d="M1237.5,245.5 V231.5 H1664.5 V245.5" stroke="#000" stroke-width="1.4" stroke-linecap="round" stroke-linejoin="round" fill="none"/><text transform="translate(1451.25,230.00) scale(1,1.03)" text-anchor="middle" class="bf">BF10 = 116</text>
<path d="M1237.5,214.5 V201.5 H1878.5 V214.5" stroke="#000" stroke-width="1.4" stroke-linecap="round" stroke-linejoin="round" fill="none"/><text transform="translate(1558.10,198.75) scale(1,1.03)" text-anchor="middle" class="bf">BF10 = 9044.47</text>
<path d="M1451.5,183 V169.5 H1664.5 V183" stroke="#000" stroke-width="1.4" stroke-linecap="round" stroke-linejoin="round" fill="none"/><text transform="translate(1557.90,168.00) scale(1,1.03)" text-anchor="middle" class="bf">BF10 = 0.57</text>
<path d="M1451.5,152.5 V139.5 H1878.5 V152.5" stroke="#000" stroke-width="1.4" stroke-linecap="round" stroke-linejoin="round" fill="none"/><text transform="translate(1663.25,137.00) scale(1,1.03)" text-anchor="middle" class="bf">BF10 = 78.11</text>
<path d="M1664.5,121.25 V107.5 H1878.5 V121.25" stroke="#000" stroke-width="1.4" stroke-linecap="round" stroke-linejoin="round" fill="none"/><text transform="translate(1771.25,105.75) scale(1,1.03)" text-anchor="middle" class="bf">BF10 = 5.99</text>
<line x1="113.9" y1="84.35" x2="113.9" y2="815.7" stroke="#000" stroke-width="3.3"/><line x1="113.9" y1="814.25" x2="986" y2="814.25" stroke="#000" stroke-width="3.3"/><line x1="105.10" y1="814.25" x2="113.90" y2="814.25" stroke="#333" stroke-width="2.9"/><text transform="translate(98.10,830.45) scale(1,1.035)" text-anchor="end" class="tk">0</text><line x1="105.10" y1="692.60" x2="113.90" y2="692.60" stroke="#333" stroke-width="2.9"/><text transform="translate(98.10,708.80) scale(1,1.035)" text-anchor="end" class="tk">10</text><line x1="105.10" y1="570.95" x2="113.90" y2="570.95" stroke="#333" stroke-width="2.9"/><text transform="translate(98.10,587.15) scale(1,1.035)" text-anchor="end" class="tk">20</text><line x1="105.10" y1="449.30" x2="113.90" y2="449.30" stroke="#333" stroke-width="2.9"/><text transform="translate(98.10,465.50) scale(1,1.035)" text-anchor="end" class="tk">30</text><line x1="105.10" y1="327.65" x2="113.90" y2="327.65" stroke="#333" stroke-width="2.9"/><text transform="translate(98.10,343.85) scale(1,1.035)" text-anchor="end" class="tk">40</text><line x1="105.10" y1="206.00" x2="113.90" y2="206.00" stroke="#333" stroke-width="2.9"/><text transform="translate(98.10,222.20) scale(1,1.035)" text-anchor="end" class="tk">50</text><line x1="105.10" y1="84.35" x2="113.90" y2="84.35" stroke="#333" stroke-width="2.9"/><text transform="translate(98.10,100.55) scale(1,1.035)" text-anchor="end" class="tk">60</text><line x1="238.3" y1="814.25" x2="238.3" y2="823.2" stroke="#333" stroke-width="2.9"/><text transform="translate(238.30,860.70) scale(1,1.03)" text-anchor="middle" class="xl">Neutral</text><line x1="446.2" y1="814.25" x2="446.2" y2="823.2" stroke="#333" stroke-width="2.9"/><text transform="translate(446.20,860.70) scale(1,1.03)" text-anchor="middle" class="xl">Pleasant</text><line x1="654.0" y1="814.25" x2="654.0" y2="823.2" stroke="#333" stroke-width="2.9"/><text transform="translate(654.00,860.70) scale(1,1.03)" text-anchor="middle" class="xl">Unpleasant</text><line x1="861.7" y1="814.25" x2="861.7" y2="823.2" stroke="#333" stroke-width="2.9"/><text transform="translate(861.70,860.70) scale(1,1.03)" text-anchor="middle" class="xl">Painful</text>
<line x1="1109.9" y1="84.35" x2="1109.9" y2="815.7" stroke="#000" stroke-width="3.3"/><line x1="1109.9" y1="814.25" x2="2005.5" y2="814.25" stroke="#000" stroke-width="3.3"/><line x1="1101.10" y1="814.25" x2="1109.90" y2="814.25" stroke="#333" stroke-width="2.9"/><text transform="translate(1093.60,830.45) scale(1,1.035)" text-anchor="end" class="tk">2</text><line x1="1101.10" y1="631.77" x2="1109.90" y2="631.77" stroke="#333" stroke-width="2.9"/><text transform="translate(1093.60,647.98) scale(1,1.035)" text-anchor="end" class="tk">3</text><line x1="1101.10" y1="449.30" x2="1109.90" y2="449.30" stroke="#333" stroke-width="2.9"/><text transform="translate(1093.60,465.50) scale(1,1.035)" text-anchor="end" class="tk">4</text><line x1="1101.10" y1="266.83" x2="1109.90" y2="266.83" stroke="#333" stroke-width="2.9"/><text transform="translate(1093.60,283.03) scale(1,1.035)" text-anchor="end" class="tk">5</text><line x1="1101.10" y1="84.35" x2="1109.90" y2="84.35" stroke="#333" stroke-width="2.9"/><text transform="translate(1093.60,100.55) scale(1,1.035)" text-anchor="end" class="tk">6</text><line x1="1237.9" y1="814.25" x2="1237.9" y2="823.2" stroke="#333" stroke-width="2.9"/><text transform="translate(1237.90,860.70) scale(1,1.03)" text-anchor="middle" class="xl">Neutral</text><line x1="1451.2" y1="814.25" x2="1451.2" y2="823.2" stroke="#333" stroke-width="2.9"/><text transform="translate(1451.20,860.70) scale(1,1.03)" text-anchor="middle" class="xl">Pleasant</text><line x1="1664.5" y1="814.25" x2="1664.5" y2="823.2" stroke="#333" stroke-width="2.9"/><text transform="translate(1664.50,860.70) scale(1,1.03)" text-anchor="middle" class="xl">Unpleasant</text><line x1="1878.1" y1="814.25" x2="1878.1" y2="823.2" stroke="#333" stroke-width="2.9"/><text transform="translate(1878.10,860.70) scale(1,1.03)" text-anchor="middle" class="xl">Painful</text>
<text transform="translate(33.70,449.60) rotate(-90) scale(1,1.045)" text-anchor="middle" class="at">% Participants</text>
<text transform="translate(1052.00,448.40) rotate(-90) scale(1,1.045)" text-anchor="middle" class="at">Mean Intensity</text>
<text transform="translate(2.00,33.90) scale(1,1.045)" class="tag">A</text>
<text transform="translate(114.90,33.90) scale(1,1.05)" class="ttl">Vicarious touch endorsements</text>
<text transform="translate(1016.30,33.90) scale(1,1.045)" class="tag">B</text>
<text transform="translate(1111.10,33.90) scale(1,1.05)" class="ttl">Vicarious touch intensity</text>
</svg>
</body></html>
